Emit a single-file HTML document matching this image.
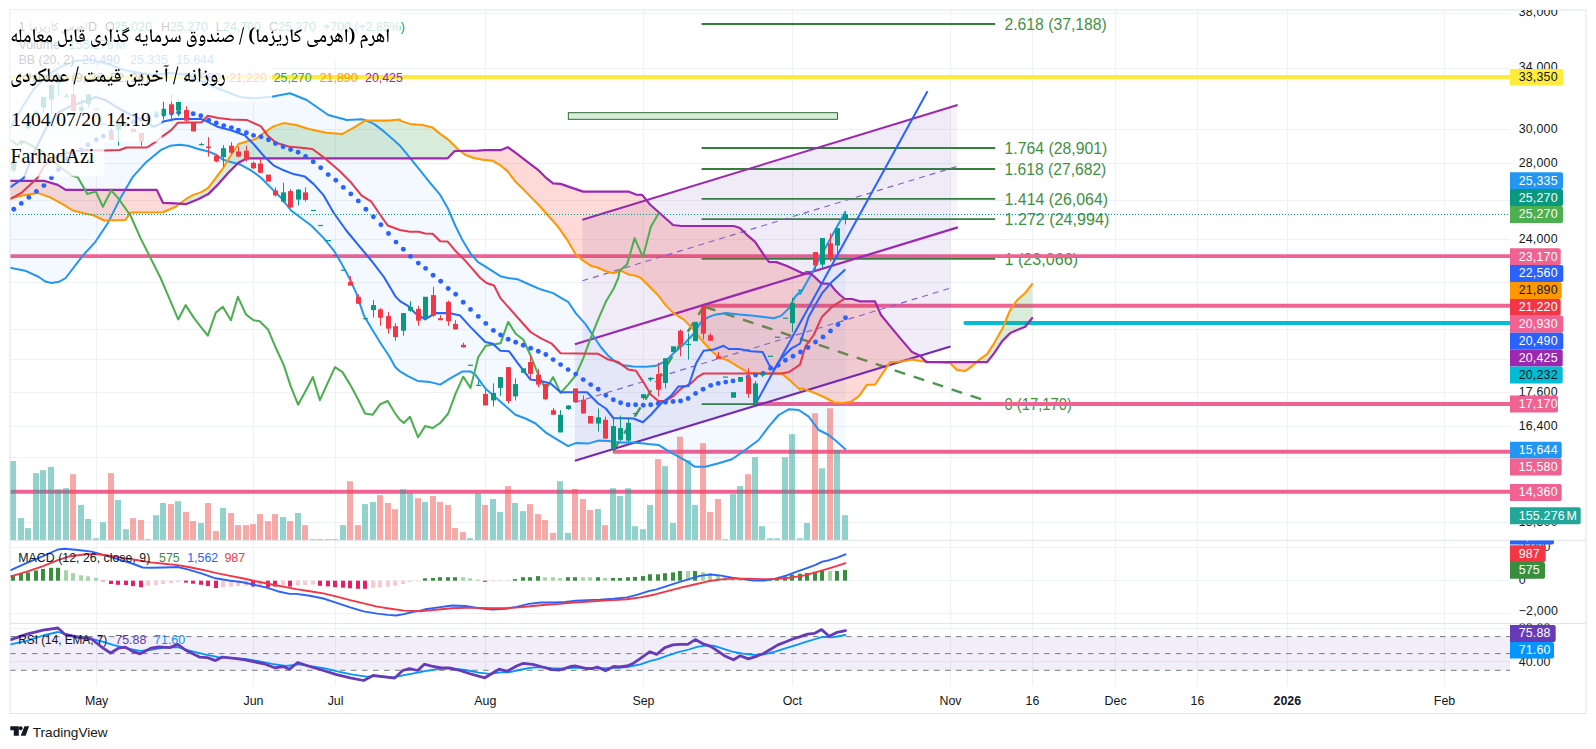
<!DOCTYPE html>
<html><head><meta charset="utf-8"><title>chart</title><style>html,body{margin:0;padding:0;background:#fff;width:1596px;height:749px;overflow:hidden}</style></head><body>
<svg width="1596" height="749" viewBox="0 0 1596 749" style="position:absolute;left:0;top:0">
<defs>
<clipPath id="cm"><rect x="10" y="10" width="1500" height="530.4"/></clipPath>
<clipPath id="cmacd"><rect x="10" y="540.4" width="1500" height="83.0"/></clipPath>
<clipPath id="crsi"><rect x="10" y="623.4" width="1500" height="62.10000000000002"/></clipPath>
<clipPath id="cax1"><rect x="1510" y="10" width="76" height="530.4"/></clipPath>
<clipPath id="cax2"><rect x="1510" y="540.4" width="76" height="83.0"/></clipPath>
<clipPath id="cax3"><rect x="1510" y="623.4" width="76" height="62.10000000000002"/></clipPath>
</defs>
<rect x="0" y="0" width="1596" height="749" fill="#ffffff"/>
<path d="M96.7,10V685.5M253.6,10V685.5M335.7,10V685.5M485.4,10V685.5M643.5,10V685.5M792.4,10V685.5M950.6,10V685.5M1032.6,10V685.5M1115.7,10V685.5M1197.5,10V685.5M1287.4,10V685.5M1444.6,10V685.5M10,13.4H1510M10,68.5H1510M10,129.1H1510M10,163.2H1510M10,200.0H1510M10,239.3H1510M10,282.4H1510M10,329.3H1510M10,359.5H1510M10,392.1H1510M10,426.6H1510M10,457.7H1510M10,490.9H1510M10,522.3H1510M10,547.4H1510M10,580.5H1510M10,613.2H1510M10,628.2H1510M10,661.9H1510" stroke="#f0f1f4" stroke-width="1" fill="none" shape-rendering="crispEdges"/>
<g clip-path="url(#cm)">
<line x1="701.6" y1="24.0" x2="995.2" y2="24.0" stroke="#2f8236" stroke-width="1.8"/>
<text x="1004.5" y="29.8" font-family='"Liberation Sans", sans-serif' font-size="16.4" fill="#3f9142" textLength="102.2" lengthAdjust="spacingAndGlyphs">2.618 (37,188)</text>
<line x1="701.6" y1="148.0" x2="995.2" y2="148.0" stroke="#2f8236" stroke-width="1.8"/>
<text x="1004.5" y="153.8" font-family='"Liberation Sans", sans-serif' font-size="16.4" fill="#3f9142" textLength="102.8" lengthAdjust="spacingAndGlyphs">1.764 (28,901)</text>
<line x1="701.6" y1="169.0" x2="995.2" y2="169.0" stroke="#2f8236" stroke-width="1.8"/>
<text x="1004.5" y="174.8" font-family='"Liberation Sans", sans-serif' font-size="16.4" fill="#3f9142" textLength="101.8" lengthAdjust="spacingAndGlyphs">1.618 (27,682)</text>
<line x1="701.6" y1="198.9" x2="995.2" y2="198.9" stroke="#2f8236" stroke-width="1.8"/>
<text x="1004.5" y="204.7" font-family='"Liberation Sans", sans-serif' font-size="16.4" fill="#3f9142" textLength="103.6" lengthAdjust="spacingAndGlyphs">1.414 (26,064)</text>
<line x1="701.6" y1="219.1" x2="995.2" y2="219.1" stroke="#2f8236" stroke-width="1.8"/>
<text x="1004.5" y="224.9" font-family='"Liberation Sans", sans-serif' font-size="16.4" fill="#3f9142" textLength="104.8" lengthAdjust="spacingAndGlyphs">1.272 (24,994)</text>
<line x1="701.6" y1="258.8" x2="995.2" y2="258.8" stroke="#2f8236" stroke-width="1.8"/>
<text x="1004.5" y="264.6" font-family='"Liberation Sans", sans-serif' font-size="16.4" fill="#3f9142" textLength="73.5" lengthAdjust="spacingAndGlyphs">1 (23,066)</text>
<line x1="701.6" y1="404.2" x2="995.2" y2="404.2" stroke="#2f8236" stroke-width="1.8"/>
<text x="1004.5" y="410.0" font-family='"Liberation Sans", sans-serif' font-size="16.4" fill="#3f9142" textLength="67.5" lengthAdjust="spacingAndGlyphs">0 (17,170)</text>
<line x1="10" y1="76.9" x2="1510" y2="76.9" stroke="#ffeb3b" stroke-width="4"/>
<line x1="10" y1="256.1" x2="1510" y2="256.1" stroke="#f06292" stroke-width="3.9"/>
<line x1="703.1" y1="305.8" x2="1510" y2="305.8" stroke="#f06292" stroke-width="3.9"/>
<line x1="755.6" y1="404.0" x2="1510" y2="404.0" stroke="#f06292" stroke-width="3.9"/>
<line x1="612.8" y1="451.8" x2="1510" y2="451.8" stroke="#f06292" stroke-width="3.9"/>
<line x1="10" y1="491.8" x2="1510" y2="491.8" stroke="#f06292" stroke-width="3.9"/>
<line x1="965.3" y1="323" x2="1510" y2="323" stroke="#00bcd4" stroke-width="3.8" stroke-linecap="round"/>
<rect x="568.3" y="112.7" width="269.2" height="6.6" fill="#d6edd8" stroke="#1b5e20" stroke-width="0.9"/>
<polygon points="582.4,219.7 957.2,105.1 957.2,227.6 582.4,341.9" fill="rgba(126,87,194,0.075)"/>
<polygon points="582.4,219.7 950.6,107.1 950.6,229.6 582.4,341.9" fill="rgba(126,87,194,0.045)"/>
<polygon points="574.9,344.2 950.6,229.6 950.6,346.5 574.9,460.7" fill="rgba(126,87,194,0.115)"/>
<polyline points="613.5,450.5 703.6,306.5" fill="none" stroke="#388e3c" stroke-width="2.4" stroke-dasharray="11,9" opacity="0.9"/>
<line x1="705" y1="307" x2="983.1" y2="399.8" stroke="#388e3c" stroke-width="2.4" stroke-dasharray="11,9" opacity="0.9"/>
<polygon points="10.3,127.8 22.2,107.3 34.2,88.5 47.9,74.8 61.5,66.3 75.2,61.1 88.9,59.4 109.4,64.5 123.1,69.7 140.2,73.1 153.8,74.8 170.9,73.1 188.0,74.8 213.7,86.8 240.0,97.0 253.3,98.3 271.7,96.7 290.0,93.3 306.7,100.0 328.3,115.0 346.7,120.0 361.7,119.3 365.1,120.1 373.9,123.9 383.9,131.4 394.0,140.2 400.0,145.7 410.0,157.8 420.1,170.3 430.1,182.8 440.2,194.9 447.7,207.9 455.2,225.5 462.7,240.6 470.3,253.1 477.8,261.9 487.8,268.2 500.4,276.2 507.9,278.0 517.9,279.3 530.5,285.0 540.5,289.3 553.1,293.1 560.6,297.6 568.1,301.8 575.7,313.1 585.7,324.4 593.2,335.7 600.8,347.0 608.3,355.8 615.8,362.1 623.3,365.3 633.4,366.6 645.9,366.8 656.0,365.8 666.0,360.8 673.5,353.3 683.6,344.5 693.6,333.7 701.1,321.9 708.7,316.9 716.2,314.4 726.2,313.1 738.8,314.4 751.3,315.6 763.9,316.9 773.9,318.2 781.4,315.6 789.0,308.1 795.2,296.8 800.0,291.8 800.1,294.0 811.4,274.0 822.7,252.7 834.0,232.0 845.3,211.9 845.3,449.3 837.0,441.7 828.7,435.0 818.7,430.0 808.7,416.7 798.7,410.0 788.7,409.3 778.7,415.0 768.7,426.7 758.7,440.0 745.3,450.0 732.0,459.3 718.7,463.3 705.3,466.7 695.3,466.7 693.6,466.0 688.6,462.4 678.5,456.7 668.5,451.1 658.5,444.9 648.4,444.1 633.4,442.4 618.3,442.4 608.3,441.1 598.2,440.6 588.2,443.6 575.7,443.1 568.1,446.1 555.6,438.6 545.5,432.3 535.5,423.5 525.5,418.5 515.4,414.8 505.4,406.0 495.4,397.2 485.3,388.4 475.3,374.6 470.3,371.4 462.7,371.4 450.2,378.4 440.2,384.6 430.1,382.1 417.6,380.9 407.5,375.9 400.0,371.4 395.2,367.1 389.0,355.8 381.4,344.5 371.4,328.2 363.9,315.6 356.3,293.1 348.8,277.0 341.3,263.1 333.8,250.6 323.7,238.1 311.2,225.5 301.1,218.0 291.1,210.5 281.1,197.9 271.0,187.9 261.0,177.8 250.9,170.3 240.9,164.8 233.4,162.8 223.3,159.8 215.8,154.7 208.3,151.5 198.2,149.0 188.2,145.7 179.4,144.7 170.6,145.7 160.6,150.2 145.5,162.8 133.0,176.6 120.5,197.9 107.9,223.0 95.4,241.8 82.8,255.6 65.7,278.0 59.0,281.8 51.4,283.0 45.2,281.5 38.9,277.0 25.1,270.7 10.0,267.7" fill="rgba(33,150,243,0.055)"/>
<rect x="10.0" y="461.0" width="6" height="79.2" fill="rgba(38,166,154,0.5)"/>
<rect x="18.0" y="518.1" width="6" height="22.1" fill="rgba(38,166,154,0.5)"/>
<rect x="25.0" y="528.1" width="6" height="12.1" fill="rgba(38,166,154,0.5)"/>
<rect x="33.0" y="473.1" width="6" height="67.1" fill="rgba(38,166,154,0.5)"/>
<rect x="40.0" y="470.2" width="6" height="70.0" fill="rgba(38,166,154,0.5)"/>
<rect x="48.0" y="466.9" width="6" height="73.3" fill="rgba(38,166,154,0.5)"/>
<rect x="55.0" y="489.3" width="6" height="50.9" fill="rgba(38,166,154,0.5)"/>
<rect x="63.0" y="488.2" width="6" height="52.0" fill="rgba(38,166,154,0.5)"/>
<rect x="70.0" y="474.2" width="6" height="66.0" fill="rgba(239,83,80,0.5)"/>
<rect x="78.0" y="504.9" width="6" height="35.3" fill="rgba(38,166,154,0.5)"/>
<rect x="85.0" y="518.9" width="6" height="21.3" fill="rgba(38,166,154,0.5)"/>
<rect x="93.0" y="538.3" width="6" height="1.9" fill="rgba(38,166,154,0.5)"/>
<rect x="100.0" y="522.2" width="6" height="18.0" fill="rgba(38,166,154,0.5)"/>
<rect x="108.0" y="473.1" width="6" height="67.1" fill="rgba(239,83,80,0.5)"/>
<rect x="115.0" y="500.1" width="6" height="40.1" fill="rgba(38,166,154,0.5)"/>
<rect x="123.0" y="529.2" width="6" height="11.0" fill="rgba(38,166,154,0.5)"/>
<rect x="130.0" y="518.1" width="6" height="22.1" fill="rgba(239,83,80,0.5)"/>
<rect x="138.0" y="520.0" width="6" height="20.2" fill="rgba(239,83,80,0.5)"/>
<rect x="145.0" y="539.1" width="6" height="1.1" fill="rgba(38,166,154,0.5)"/>
<rect x="153.0" y="515.2" width="6" height="25.0" fill="rgba(38,166,154,0.5)"/>
<rect x="160.0" y="503.0" width="6" height="37.2" fill="rgba(38,166,154,0.5)"/>
<rect x="168.0" y="504.1" width="6" height="36.1" fill="rgba(239,83,80,0.5)"/>
<rect x="175.0" y="501.2" width="6" height="39.0" fill="rgba(38,166,154,0.5)"/>
<rect x="183.0" y="511.9" width="6" height="28.3" fill="rgba(239,83,80,0.5)"/>
<rect x="190.0" y="521.1" width="6" height="19.1" fill="rgba(239,83,80,0.5)"/>
<rect x="198.0" y="523.0" width="6" height="17.2" fill="rgba(38,166,154,0.5)"/>
<rect x="205.0" y="503.0" width="6" height="37.2" fill="rgba(239,83,80,0.5)"/>
<rect x="213.0" y="531.1" width="6" height="9.1" fill="rgba(239,83,80,0.5)"/>
<rect x="220.0" y="507.9" width="6" height="32.3" fill="rgba(38,166,154,0.5)"/>
<rect x="228.0" y="513.0" width="6" height="27.2" fill="rgba(239,83,80,0.5)"/>
<rect x="235.0" y="525.1" width="6" height="15.1" fill="rgba(239,83,80,0.5)"/>
<rect x="243.0" y="525.1" width="6" height="15.1" fill="rgba(239,83,80,0.5)"/>
<rect x="250.0" y="524.1" width="6" height="16.1" fill="rgba(239,83,80,0.5)"/>
<rect x="257.0" y="514.1" width="6" height="26.1" fill="rgba(239,83,80,0.5)"/>
<rect x="265.0" y="521.1" width="6" height="19.1" fill="rgba(239,83,80,0.5)"/>
<rect x="272.0" y="514.1" width="6" height="26.1" fill="rgba(239,83,80,0.5)"/>
<rect x="280.0" y="517.0" width="6" height="23.2" fill="rgba(38,166,154,0.5)"/>
<rect x="287.0" y="521.1" width="6" height="19.1" fill="rgba(239,83,80,0.5)"/>
<rect x="295.0" y="513.0" width="6" height="27.2" fill="rgba(38,166,154,0.5)"/>
<rect x="302.0" y="525.1" width="6" height="15.1" fill="rgba(239,83,80,0.5)"/>
<rect x="310.0" y="539.1" width="6" height="1.1" fill="rgba(38,166,154,0.5)"/>
<rect x="317.0" y="539.1" width="6" height="1.1" fill="rgba(38,166,154,0.5)"/>
<rect x="325.0" y="539.1" width="6" height="1.1" fill="rgba(38,166,154,0.5)"/>
<rect x="332.0" y="539.1" width="6" height="1.1" fill="rgba(38,166,154,0.5)"/>
<rect x="340.0" y="525.1" width="6" height="15.1" fill="rgba(38,166,154,0.5)"/>
<rect x="347.0" y="481.2" width="6" height="59.0" fill="rgba(239,83,80,0.5)"/>
<rect x="355.0" y="525.1" width="6" height="15.1" fill="rgba(239,83,80,0.5)"/>
<rect x="362.0" y="504.1" width="6" height="36.1" fill="rgba(38,166,154,0.5)"/>
<rect x="370.0" y="502.0" width="6" height="38.2" fill="rgba(38,166,154,0.5)"/>
<rect x="377.0" y="495.2" width="6" height="45.0" fill="rgba(239,83,80,0.5)"/>
<rect x="385.0" y="503.0" width="6" height="37.2" fill="rgba(239,83,80,0.5)"/>
<rect x="392.0" y="509.2" width="6" height="31.0" fill="rgba(239,83,80,0.5)"/>
<rect x="400.0" y="489.3" width="6" height="50.9" fill="rgba(38,166,154,0.5)"/>
<rect x="407.0" y="493.1" width="6" height="47.1" fill="rgba(38,166,154,0.5)"/>
<rect x="415.0" y="498.2" width="6" height="42.0" fill="rgba(239,83,80,0.5)"/>
<rect x="422.0" y="502.0" width="6" height="38.2" fill="rgba(38,166,154,0.5)"/>
<rect x="430.0" y="496.0" width="6" height="44.2" fill="rgba(239,83,80,0.5)"/>
<rect x="437.0" y="502.0" width="6" height="38.2" fill="rgba(239,83,80,0.5)"/>
<rect x="445.0" y="504.9" width="6" height="35.3" fill="rgba(239,83,80,0.5)"/>
<rect x="452.0" y="528.1" width="6" height="12.1" fill="rgba(239,83,80,0.5)"/>
<rect x="460.0" y="532.1" width="6" height="8.1" fill="rgba(239,83,80,0.5)"/>
<rect x="467.0" y="538.1" width="6" height="2.1" fill="rgba(38,166,154,0.5)"/>
<rect x="475.0" y="493.1" width="6" height="47.1" fill="rgba(38,166,154,0.5)"/>
<rect x="482.0" y="504.9" width="6" height="35.3" fill="rgba(239,83,80,0.5)"/>
<rect x="490.0" y="499.0" width="6" height="41.2" fill="rgba(38,166,154,0.5)"/>
<rect x="497.0" y="511.9" width="6" height="28.3" fill="rgba(38,166,154,0.5)"/>
<rect x="505.0" y="486.1" width="6" height="54.1" fill="rgba(239,83,80,0.5)"/>
<rect x="512.0" y="503.0" width="6" height="37.2" fill="rgba(38,166,154,0.5)"/>
<rect x="520.0" y="511.1" width="6" height="29.1" fill="rgba(38,166,154,0.5)"/>
<rect x="527.0" y="504.1" width="6" height="36.1" fill="rgba(239,83,80,0.5)"/>
<rect x="535.0" y="514.1" width="6" height="26.1" fill="rgba(239,83,80,0.5)"/>
<rect x="542.0" y="520.0" width="6" height="20.2" fill="rgba(239,83,80,0.5)"/>
<rect x="550.0" y="532.9" width="6" height="7.3" fill="rgba(239,83,80,0.5)"/>
<rect x="557.0" y="481.2" width="6" height="59.0" fill="rgba(38,166,154,0.5)"/>
<rect x="565.0" y="532.9" width="6" height="7.3" fill="rgba(38,166,154,0.5)"/>
<rect x="572.0" y="489.0" width="6" height="51.2" fill="rgba(239,83,80,0.5)"/>
<rect x="580.0" y="499.0" width="6" height="41.2" fill="rgba(239,83,80,0.5)"/>
<rect x="587.0" y="510.0" width="6" height="30.2" fill="rgba(239,83,80,0.5)"/>
<rect x="595.0" y="509.0" width="6" height="31.2" fill="rgba(38,166,154,0.5)"/>
<rect x="602.0" y="525.1" width="6" height="15.1" fill="rgba(239,83,80,0.5)"/>
<rect x="610.0" y="488.2" width="6" height="52.0" fill="rgba(38,166,154,0.5)"/>
<rect x="617.0" y="496.0" width="6" height="44.2" fill="rgba(38,166,154,0.5)"/>
<rect x="625.0" y="488.2" width="6" height="52.0" fill="rgba(38,166,154,0.5)"/>
<rect x="632.0" y="526.2" width="6" height="14.0" fill="rgba(38,166,154,0.5)"/>
<rect x="640.0" y="529.2" width="6" height="11.0" fill="rgba(38,166,154,0.5)"/>
<rect x="647.0" y="504.9" width="6" height="35.3" fill="rgba(38,166,154,0.5)"/>
<rect x="655.0" y="459.1" width="6" height="81.1" fill="rgba(239,83,80,0.5)"/>
<rect x="662.0" y="466.1" width="6" height="74.1" fill="rgba(38,166,154,0.5)"/>
<rect x="670.0" y="523.0" width="6" height="17.2" fill="rgba(38,166,154,0.5)"/>
<rect x="685.0" y="460.2" width="6" height="80.0" fill="rgba(38,166,154,0.5)"/>
<rect x="692.0" y="504.9" width="6" height="35.3" fill="rgba(38,166,154,0.5)"/>
<rect x="700.0" y="443.2" width="6" height="97.0" fill="rgba(239,83,80,0.5)"/>
<rect x="707.0" y="511.9" width="6" height="28.3" fill="rgba(239,83,80,0.5)"/>
<rect x="715.0" y="499.0" width="6" height="41.2" fill="rgba(239,83,80,0.5)"/>
<rect x="722.0" y="539.1" width="6" height="1.1" fill="rgba(38,166,154,0.5)"/>
<rect x="730.0" y="494.1" width="6" height="46.1" fill="rgba(38,166,154,0.5)"/>
<rect x="737.0" y="486.1" width="6" height="54.1" fill="rgba(38,166,154,0.5)"/>
<rect x="745.0" y="474.2" width="6" height="66.0" fill="rgba(239,83,80,0.5)"/>
<rect x="752.0" y="457.2" width="6" height="83.0" fill="rgba(38,166,154,0.5)"/>
<rect x="759.0" y="526.2" width="6" height="14.0" fill="rgba(38,166,154,0.5)"/>
<rect x="767.0" y="538.3" width="6" height="1.9" fill="rgba(38,166,154,0.5)"/>
<rect x="774.0" y="538.3" width="6" height="1.9" fill="rgba(38,166,154,0.5)"/>
<rect x="782.0" y="457.2" width="6" height="83.0" fill="rgba(38,166,154,0.5)"/>
<rect x="797.0" y="538.3" width="6" height="1.9" fill="rgba(38,166,154,0.5)"/>
<rect x="804.0" y="523.0" width="6" height="17.2" fill="rgba(38,166,154,0.5)"/>
<rect x="819.0" y="468.3" width="6" height="71.9" fill="rgba(38,166,154,0.5)"/>
<rect x="834.0" y="450.2" width="6" height="90.0" fill="rgba(38,166,154,0.5)"/>
<rect x="842.0" y="515.2" width="6" height="25.0" fill="rgba(38,166,154,0.5)"/>
<rect x="677.0" y="436.6" width="6" height="103.6" fill="rgba(239,83,80,0.5)"/>
<rect x="789.0" y="434.1" width="6" height="106.1" fill="rgba(38,166,154,0.5)"/>
<rect x="812.0" y="413.3" width="6" height="126.9" fill="rgba(239,83,80,0.5)"/>
<rect x="827.0" y="408.3" width="6" height="131.9" fill="rgba(239,83,80,0.5)"/>
<polygon points="10.0,198.0 12.1,197.9 14.2,197.4 16.3,196.9 18.4,196.4 20.5,195.9 22.6,195.4 24.7,195.0 26.9,194.7 29.0,194.3 31.2,194.0 33.3,193.6 35.5,193.2 37.6,192.9 39.7,193.6 41.8,194.4 43.9,195.1 46.0,195.9 48.1,196.7 50.2,197.4 52.7,198.8 55.2,200.1 57.7,201.5 60.2,202.8 62.7,204.2 65.7,206.0 68.1,207.5 70.4,209.0 72.8,210.5 74.8,211.0 76.8,211.5 78.8,212.0 80.8,212.5 82.8,213.0 85.1,213.5 87.3,214.0 89.6,214.5 91.8,215.0 94.1,215.5 96.1,216.5 98.1,217.5 100.1,218.5 102.1,219.5 104.1,220.5 106.2,220.4 108.4,220.4 110.5,220.3 112.7,220.3 114.8,220.2 116.9,220.2 119.1,220.1 121.2,220.1 123.4,220.0 125.5,219.9 128.0,216.2 130.5,212.5 132.5,212.4 134.5,212.4 136.6,212.4 138.6,212.4 140.6,212.4 142.6,212.4 144.7,212.4 146.7,212.3 148.7,212.3 150.7,212.3 152.8,212.3 154.8,212.3 156.8,212.3 158.9,212.2 161.0,212.2 163.1,212.2 165.2,211.3 167.3,210.4 169.4,209.4 171.5,208.5 173.6,207.6 175.7,206.7 177.7,205.2 179.7,203.7 179.7,203.7 177.7,203.6 175.7,203.4 173.6,203.3 171.5,203.3 169.4,203.2 167.3,203.1 165.2,203.0 163.1,202.9 161.0,198.5 158.9,194.2 156.8,189.9 154.8,189.9 152.8,189.9 150.7,189.9 148.7,189.9 146.7,189.9 144.7,189.9 142.6,189.9 140.6,189.9 138.6,189.9 136.6,189.9 134.5,189.9 132.5,189.9 130.5,189.9 128.0,189.9 125.5,189.9 123.4,189.9 121.2,189.9 119.1,189.9 116.9,189.9 114.8,189.9 112.7,189.9 110.5,189.9 108.4,189.9 106.2,189.9 104.1,189.9 102.1,189.9 100.1,189.9 98.1,189.9 96.1,189.9 94.1,189.9 91.8,189.9 89.6,189.9 87.3,189.9 85.1,189.9 82.8,189.9 80.8,189.9 78.8,189.9 76.8,189.9 74.8,189.9 72.8,189.9 70.4,189.9 68.1,189.9 65.7,189.8 62.7,188.0 60.2,186.4 57.7,184.9 55.2,184.1 52.7,183.4 50.2,182.7 48.1,182.1 46.0,181.4 43.9,180.8 41.8,180.8 39.7,180.8 37.6,180.8 35.5,180.8 33.3,180.8 31.2,180.8 29.0,180.8 26.9,180.8 24.7,180.8 22.6,180.8 20.5,180.8 18.4,180.8 16.3,180.8 14.2,180.8 12.1,180.8 10.0,180.8" fill="rgba(244,67,54,0.2)"/><polygon points="179.7,203.7 181.7,202.2 183.7,200.7 185.7,199.2 188.2,197.7 190.7,196.3 193.2,194.9 195.7,194.1 198.2,193.2 200.8,192.4 203.3,190.9 205.8,189.4 208.3,187.8 210.8,184.5 213.3,181.2 215.8,177.8 218.3,174.5 220.8,171.2 223.3,167.8 225.9,163.6 228.4,159.4 230.9,155.2 233.4,151.4 235.9,147.7 238.4,144.0 240.6,143.3 242.8,142.6 245.0,142.0 247.2,141.3 248.4,141.0 250.9,140.3 253.5,139.6 256.0,138.9 258.0,137.4 260.0,135.9 262.0,134.4 264.0,132.9 266.0,131.4 268.5,129.7 271.0,128.1 273.5,126.4 275.5,125.7 277.5,125.1 279.6,124.4 281.6,123.8 283.6,123.1 285.7,123.5 287.8,123.8 289.9,124.1 291.9,124.5 294.0,124.8 296.1,125.1 298.2,125.8 300.3,126.4 302.4,127.0 304.5,127.6 306.6,128.3 308.7,128.9 310.9,129.4 313.1,129.8 315.3,130.3 317.4,130.8 319.6,131.2 321.8,131.7 324.0,132.2 326.2,132.7 328.2,132.8 330.3,133.0 332.3,133.1 334.4,133.3 336.4,133.4 338.4,133.6 340.5,133.8 342.5,133.9 344.8,132.7 347.0,131.4 349.3,130.2 351.5,128.9 353.8,127.7 356.1,126.3 358.3,124.8 360.6,123.4 362.8,122.0 365.1,120.6 367.3,120.6 369.4,120.6 371.6,120.6 373.8,120.6 376.0,120.6 378.1,120.6 380.3,120.6 382.5,120.6 384.7,120.6 386.8,120.6 389.0,120.6 391.2,120.4 393.4,120.2 395.6,120.0 397.8,119.8 400.0,119.6 402.0,121.3 404.0,121.9 406.0,122.6 408.0,123.2 410.0,123.9 412.1,124.1 414.2,124.3 416.3,124.5 418.4,124.7 420.5,124.9 422.6,125.1 424.6,125.6 426.6,126.1 428.6,126.6 430.6,127.1 432.6,127.6 435.1,129.7 437.7,131.8 440.2,133.9 442.7,135.7 445.2,137.5 447.7,139.3 448.9,140.2 451.8,143.1 454.7,146.0 457.7,149.0 460.2,150.9 462.7,152.8 462.7,150.9 460.2,150.9 457.7,150.9 454.7,151.0 451.8,154.0 448.9,157.0 447.7,158.2 445.2,158.3 442.7,158.3 440.2,158.3 437.7,158.3 435.1,158.3 432.6,158.3 430.6,158.3 428.6,158.3 426.6,158.3 424.6,158.3 422.6,158.3 420.5,158.3 418.4,158.3 416.3,158.3 414.2,158.3 412.1,158.3 410.0,158.3 408.0,158.3 406.0,158.3 404.0,158.3 402.0,158.3 400.0,158.3 397.8,158.3 395.6,158.3 393.4,158.3 391.2,158.3 389.0,158.3 386.8,158.3 384.7,158.3 382.5,158.3 380.3,158.3 378.1,158.3 376.0,158.3 373.8,158.3 371.6,158.3 369.4,158.3 367.3,158.3 365.1,158.3 362.8,158.3 360.6,158.3 358.3,158.3 356.1,158.3 353.8,158.3 351.5,158.3 349.3,158.3 347.0,158.3 344.8,158.3 342.5,158.3 340.5,158.3 338.4,158.3 336.4,158.3 334.4,158.3 332.3,158.3 330.3,158.3 328.2,158.3 326.2,158.3 324.0,158.3 321.8,158.3 319.6,158.3 317.4,158.3 315.3,158.3 313.1,158.3 310.9,158.3 308.7,158.3 306.6,158.3 304.5,158.3 302.4,158.3 300.3,158.3 298.2,158.3 296.1,158.3 294.0,158.3 291.9,158.3 289.9,158.3 287.8,158.3 285.7,158.3 283.6,158.3 281.6,158.3 279.6,158.3 277.5,158.3 275.5,158.3 273.5,158.3 271.0,158.3 268.5,158.3 266.0,158.3 264.0,158.3 262.0,158.3 260.0,158.3 258.0,158.3 256.0,158.3 253.5,158.3 250.9,158.3 248.4,158.3 247.2,158.3 245.0,159.4 242.8,160.5 240.6,161.6 238.4,162.8 235.9,165.3 233.4,167.8 230.9,170.3 228.4,172.8 225.9,175.6 223.3,178.5 220.8,181.3 218.3,184.1 215.8,186.6 213.3,189.1 210.8,191.6 208.3,194.1 205.8,195.4 203.3,196.6 200.8,197.9 198.2,199.2 195.7,200.2 193.2,201.2 190.7,202.2 188.2,203.2 185.7,204.2 183.7,204.0 181.7,203.9 179.7,203.7" fill="rgba(67,160,71,0.2)"/><polygon points="462.7,152.8 465.2,154.7 467.7,155.7 470.3,156.8 472.8,157.8 475.3,158.3 477.8,158.8 480.3,159.3 482.8,159.8 485.3,160.0 487.8,160.3 490.3,160.5 492.8,160.8 495.3,162.3 497.9,163.8 500.4,165.3 502.9,167.4 505.4,169.5 507.9,171.6 510.4,174.9 512.9,178.2 515.4,181.5 517.9,184.1 520.5,186.6 523.0,189.2 525.5,191.7 528.0,194.2 530.5,196.7 533.0,199.2 535.5,201.7 538.0,204.2 540.5,207.0 543.0,209.8 545.5,212.6 548.1,215.5 550.6,218.3 553.1,221.1 555.6,224.0 558.1,226.8 560.6,230.3 562.7,233.3 564.8,236.3 566.9,239.4 570.6,245.7 573.2,250.1 575.7,254.4 578.2,256.5 580.7,258.6 583.2,260.6 585.7,262.3 588.2,264.0 590.7,265.6 593.2,266.3 595.7,267.0 598.2,267.7 600.7,268.8 603.3,270.0 605.8,271.2 608.3,271.9 610.8,272.5 613.3,273.2 615.8,272.4 618.3,271.5 620.8,270.7 623.3,271.9 625.9,273.2 628.4,274.4 630.9,274.9 633.4,275.3 635.9,275.7 638.4,276.8 640.9,278.0 642.2,279.3 644.3,281.3 646.3,283.4 648.4,285.5 649.7,286.8 651.9,289.0 654.1,291.2 656.3,293.4 658.5,295.6 661.0,298.9 663.5,302.3 666.0,305.6 668.3,307.9 670.7,310.3 673.0,312.6 673.5,313.1 676.0,314.7 678.6,316.3 681.1,317.9 683.6,319.4 685.8,321.6 688.0,323.8 690.1,326.0 692.3,328.1 694.5,331.0 696.7,333.8 698.9,336.6 701.1,339.4 703.1,341.7 705.1,344.0 707.2,346.3 709.2,348.5 711.2,350.8 713.7,352.9 716.2,355.0 718.7,357.0 720.7,357.8 722.7,358.5 724.7,359.3 726.7,360.0 728.7,360.8 731.2,362.4 733.8,364.0 736.3,365.5 738.8,367.1 740.0,367.8 742.1,369.0 744.2,370.2 746.3,371.4 748.8,372.9 750.9,372.9 753.0,373.0 755.1,373.1 757.2,373.2 759.3,373.3 761.4,373.4 762.6,373.4 764.7,373.4 766.8,373.4 768.9,373.4 771.4,373.4 773.9,373.4 776.4,373.4 778.9,373.4 781.4,373.4 783.9,375.4 786.4,377.5 789.0,379.7 791.2,381.7 793.4,383.7 795.6,385.7 797.8,387.7 800.0,389.7 801.4,388.3 801.6,388.1 804.0,389.0 806.5,389.9 809.0,390.8 811.4,391.7 814.2,392.8 816.6,393.8 819.0,394.9 821.4,395.9 825.0,397.5 827.6,398.9 830.2,400.4 834.1,402.5 835.2,402.6 839.0,402.7 840.0,402.8 843.1,402.9 845.0,402.6 847.0,402.3 849.0,402.0 851.0,401.7 852.0,401.0 854.3,399.4 856.7,397.8 859.0,396.1 860.0,394.7 862.3,391.4 864.7,388.1 867.0,384.8 869.0,384.7 871.0,384.7 873.0,384.7 875.0,384.7 877.0,381.8 879.0,378.7 881.0,375.7 883.3,372.3 885.5,368.9 887.8,365.4 890.1,362.1 892.1,362.0 894.1,361.9 896.1,361.8 898.1,361.7 900.1,361.5 902.6,361.3 905.1,361.1 907.4,360.5 909.8,360.0 912.1,359.5 914.1,359.9 916.1,360.3 918.1,360.7 920.1,361.1 922.2,361.3 924.4,361.4 926.5,361.6 926.5,362.1 924.4,360.0 922.2,357.8 920.1,355.7 918.1,354.8 916.1,353.9 914.1,353.0 912.1,352.1 909.8,349.4 907.4,346.7 905.1,343.9 902.6,341.0 900.1,338.1 898.1,335.7 896.1,333.3 894.1,330.9 892.1,328.5 890.1,326.1 887.8,323.3 885.5,320.6 883.3,317.8 881.0,315.0 879.0,310.4 877.0,305.9 875.0,301.4 873.0,301.4 871.0,301.4 869.0,301.4 867.0,301.4 864.7,301.4 862.3,301.4 860.0,301.4 859.0,301.1 856.7,300.4 854.3,299.7 852.0,299.0 851.0,299.0 849.0,299.0 847.0,299.0 845.0,299.0 843.1,297.5 840.0,295.0 839.0,294.0 835.2,290.3 834.1,288.9 830.2,283.8 827.6,283.7 825.0,283.6 821.4,283.4 819.0,281.1 816.6,278.9 814.2,276.6 811.4,274.0 809.0,273.7 806.5,273.4 804.0,273.1 801.6,272.8 801.4,272.8 800.0,271.9 797.8,270.9 795.6,269.9 793.4,268.9 791.2,267.9 789.0,266.8 786.4,265.6 783.9,264.8 781.4,263.9 778.9,263.0 776.4,262.1 773.9,262.1 771.4,262.0 768.9,261.9 766.8,259.0 764.7,256.0 762.6,253.1 761.4,251.3 759.3,248.1 757.2,245.0 755.1,241.8 753.0,240.0 750.9,238.2 748.8,236.4 746.3,234.3 744.2,232.2 742.1,230.1 740.0,228.0 738.8,227.6 736.3,226.8 733.8,226.0 731.2,226.0 728.7,226.0 726.7,226.0 724.7,226.0 722.7,226.0 720.7,226.0 718.7,226.0 716.2,226.0 713.7,226.0 711.2,226.0 709.2,226.0 707.2,226.0 705.1,226.0 703.1,226.0 701.1,226.0 698.9,226.0 696.7,226.0 694.5,226.0 692.3,226.0 690.1,226.0 688.0,226.0 685.8,226.0 683.6,226.0 681.1,226.0 678.6,225.7 676.0,225.4 673.5,225.1 673.0,225.0 670.7,222.9 668.3,220.8 666.0,218.7 663.5,216.5 661.0,214.2 658.5,212.0 656.3,210.1 654.1,208.1 651.9,206.1 649.7,204.2 648.4,202.6 646.3,200.0 644.3,197.5 642.2,194.9 640.9,194.8 638.4,194.7 635.9,194.6 633.4,193.6 630.9,192.6 628.4,191.6 625.9,191.6 623.3,191.6 620.8,191.6 618.3,191.6 615.8,191.6 613.3,191.6 610.8,191.6 608.3,191.6 605.8,191.6 603.3,191.6 600.7,191.6 598.2,191.6 595.7,191.6 593.2,191.6 590.7,191.6 588.2,191.6 585.7,191.6 583.2,191.6 580.7,190.8 578.2,189.9 575.7,189.1 573.2,188.2 570.6,187.4 566.9,186.1 564.8,185.3 562.7,184.6 560.6,183.9 558.1,183.7 555.6,183.5 553.1,183.4 550.6,181.4 548.1,179.4 545.5,177.3 543.0,174.8 540.5,172.3 538.0,169.8 535.5,167.9 533.0,166.0 530.5,164.1 528.0,162.2 525.5,160.3 523.0,158.4 520.5,156.5 517.9,154.6 515.4,152.7 512.9,150.9 510.4,149.0 507.9,147.2 505.4,148.2 502.9,149.2 500.4,150.2 497.9,150.2 495.3,150.2 492.8,150.2 490.3,150.2 487.8,150.2 485.3,150.2 482.8,150.4 480.3,150.6 477.8,150.7 475.3,150.8 472.8,150.8 470.3,150.8 467.7,150.8 465.2,150.9 462.7,150.9" fill="rgba(244,67,54,0.2)"/><polygon points="926.5,361.6 928.1,361.7 930.1,361.8 932.1,361.9 934.1,362.0 936.1,362.1 936.1,362.1 934.1,362.1 932.1,362.1 930.1,362.1 928.1,362.1 926.5,362.1" fill="rgba(67,160,71,0.2)"/><polygon points="936.1,362.1 938.1,362.2 940.1,362.3 942.1,362.4 944.1,362.5 946.1,362.7 948.1,362.9 950.1,363.1 952.4,365.4 954.8,367.7 957.1,370.1 959.1,370.3 961.1,370.6 963.1,370.8 965.1,371.1 967.4,369.5 969.8,367.8 972.1,366.1 974.1,364.4 976.1,362.6 978.1,360.9 978.1,362.1 976.1,362.1 974.1,362.1 972.1,362.1 969.8,362.1 967.4,362.1 965.1,362.1 963.1,362.1 961.1,362.1 959.1,362.1 957.1,362.1 954.8,362.1 952.4,362.1 950.1,362.1 948.1,362.1 946.1,362.1 944.1,362.1 942.1,362.1 940.1,362.1 938.1,362.1 936.1,362.1" fill="rgba(244,67,54,0.2)"/><polygon points="978.1,360.9 980.1,359.1 982.4,357.5 984.8,355.8 987.1,354.1 989.5,350.4 991.8,346.7 994.2,343.0 996.2,339.5 998.2,336.0 1000.2,332.5 1002.2,329.0 1004.2,324.2 1006.2,319.5 1008.2,314.7 1010.2,310.0 1012.5,306.7 1014.9,303.3 1017.2,300.0 1019.2,298.3 1021.2,296.5 1023.2,294.8 1025.2,293.0 1027.5,290.0 1029.9,287.0 1032.2,284.0 1032.2,318.0 1029.9,320.9 1027.5,323.8 1025.2,326.6 1023.2,327.5 1021.2,328.4 1019.2,329.2 1017.2,330.1 1014.9,331.1 1012.5,332.1 1010.2,333.1 1008.2,335.0 1006.2,337.0 1004.2,339.0 1002.2,341.0 1000.2,344.0 998.2,347.0 996.2,350.0 994.2,353.0 991.8,356.1 989.5,359.1 987.1,362.1 984.8,362.1 982.4,362.1 980.1,362.1 978.1,362.1" fill="rgba(67,160,71,0.2)"/>
<line x1="582.4" y1="219.7" x2="957.6" y2="105.0" stroke="#9c27b0" stroke-width="2"/>
<line x1="574.9" y1="344.2" x2="957.8" y2="227.4" stroke="#9c27b0" stroke-width="2.2"/>
<line x1="574.9" y1="460.7" x2="950.5" y2="346.5" stroke="#7429b4" stroke-width="2.1"/>
<line x1="582.4" y1="280.8" x2="957.2" y2="166.4" stroke="#8560c9" stroke-width="1.15" stroke-dasharray="6,5"/>
<line x1="574.9" y1="402.4" x2="950.5" y2="288.1" stroke="#8560c9" stroke-width="1.15" stroke-dasharray="6,5"/>
<polyline points="10.3,127.8 22.2,107.3 34.2,88.5 47.9,74.8 61.5,66.3 75.2,61.1 88.9,59.4 109.4,64.5 123.1,69.7 140.2,73.1 153.8,74.8 170.9,73.1 188.0,74.8 213.7,86.8 240.0,97.0 253.3,98.3 271.7,96.7 290.0,93.3 306.7,100.0 328.3,115.0 346.7,120.0 361.7,119.3 365.1,120.1 373.9,123.9 383.9,131.4 394.0,140.2 400.0,145.7 410.0,157.8 420.1,170.3 430.1,182.8 440.2,194.9 447.7,207.9 455.2,225.5 462.7,240.6 470.3,253.1 477.8,261.9 487.8,268.2 500.4,276.2 507.9,278.0 517.9,279.3 530.5,285.0 540.5,289.3 553.1,293.1 560.6,297.6 568.1,301.8 575.7,313.1 585.7,324.4 593.2,335.7 600.8,347.0 608.3,355.8 615.8,362.1 623.3,365.3 633.4,366.6 645.9,366.8 656.0,365.8 666.0,360.8 673.5,353.3 683.6,344.5 693.6,333.7 701.1,321.9 708.7,316.9 716.2,314.4 726.2,313.1 738.8,314.4 751.3,315.6 763.9,316.9 773.9,318.2 781.4,315.6 789.0,308.1 795.2,296.8 800.0,291.8 800.1,294.0 811.4,274.0 822.7,252.7 834.0,232.0 845.3,211.9" fill="none" stroke="#2196f3" stroke-width="2.0" stroke-linejoin="round" stroke-linecap="round" />
<polyline points="10.0,267.7 25.1,270.7 38.9,277.0 45.2,281.5 51.4,283.0 59.0,281.8 65.7,278.0 82.8,255.6 95.4,241.8 107.9,223.0 120.5,197.9 133.0,176.6 145.5,162.8 160.6,150.2 170.6,145.7 179.4,144.7 188.2,145.7 198.2,149.0 208.3,151.5 215.8,154.7 223.3,159.8 233.4,162.8 240.9,164.8 250.9,170.3 261.0,177.8 271.0,187.9 281.1,197.9 291.1,210.5 301.1,218.0 311.2,225.5 323.7,238.1 333.8,250.6 341.3,263.1 348.8,277.0 356.3,293.1 363.9,315.6 371.4,328.2 381.4,344.5 389.0,355.8 395.2,367.1 400.0,371.4 407.5,375.9 417.6,380.9 430.1,382.1 440.2,384.6 450.2,378.4 462.7,371.4 470.3,371.4 475.3,374.6 485.3,388.4 495.4,397.2 505.4,406.0 515.4,414.8 525.5,418.5 535.5,423.5 545.5,432.3 555.6,438.6 568.1,446.1 575.7,443.1 588.2,443.6 598.2,440.6 608.3,441.1 618.3,442.4 633.4,442.4 648.4,444.1 658.5,444.9 668.5,451.1 678.5,456.7 688.6,462.4 693.6,466.0 695.3,466.7 705.3,466.7 718.7,463.3 732.0,459.3 745.3,450.0 758.7,440.0 768.7,426.7 778.7,415.0 788.7,409.3 798.7,410.0 808.7,416.7 818.7,430.0 828.7,435.0 837.0,441.7 845.3,449.3" fill="none" stroke="#2196f3" stroke-width="2.0" stroke-linejoin="round" stroke-linecap="round" />
<polyline points="10.0,198.0 10.0,198.4 22.6,195.4 37.6,192.9 50.2,197.4 62.7,204.2 72.8,210.5 82.8,213.0 94.1,215.5 104.1,220.5 125.5,220.0 130.5,212.5 163.1,212.2 175.7,206.7 185.7,199.2 193.2,194.9 200.8,192.4 208.3,187.9 215.8,177.8 223.3,167.8 230.9,155.2 238.4,144.0 248.4,140.9 256.0,138.9 266.0,131.4 273.5,126.4 283.6,123.1 296.1,125.1 308.7,128.9 326.2,132.7 342.5,133.9 353.8,127.6 365.1,120.6 389.0,120.6 400.0,119.6 400.0,120.6 410.0,123.9 422.6,125.1 432.6,127.6 440.2,133.9 448.9,140.2 457.7,149.0 465.2,154.7 472.8,157.8 482.8,159.8 492.8,160.8 500.4,165.3 507.9,171.6 515.4,181.6 523.0,189.1 530.5,196.6 538.0,204.2 548.1,215.5 558.1,226.8 566.9,239.3 575.7,254.4 583.2,260.6 590.7,265.7 598.2,267.7 605.8,271.2 613.3,273.2 620.8,270.7 628.4,274.4 635.9,275.7 640.9,278.0 648.4,285.5 658.5,295.6 666.0,305.6 673.5,313.1 683.6,319.4 692.3,328.2 701.1,339.5 711.2,350.8 718.7,357.0 728.7,360.8 738.8,367.1 748.8,372.9 761.4,373.4 781.4,373.4 789.0,379.6 800.0,389.7 801.6,388.1 814.2,392.8 825.0,397.5 834.1,402.5 843.1,402.9 851.0,401.7 859.0,396.1 867.0,384.7 875.0,384.7 890.1,362.1 898.1,361.7 905.1,361.1 912.1,359.5 920.1,361.1 928.1,361.7 944.1,362.5 950.1,363.1 957.1,370.1 965.1,371.1 972.1,366.1 980.1,359.1 987.1,354.1 994.2,343.1 1002.2,329.1 1010.2,310.0 1017.2,300.0 1025.2,293.0 1032.2,284.0" fill="none" stroke="#ff9800" stroke-width="2.05" stroke-linejoin="round" stroke-linecap="round" />
<polyline points="10.0,180.8 10.0,180.8 43.9,180.8 57.7,184.9 65.7,189.9 156.8,189.9 163.1,202.9 175.7,203.4 185.7,204.2 198.2,199.2 208.3,194.1 218.3,184.1 228.4,172.8 238.4,162.8 247.2,158.3 400.0,158.3 400.0,158.3 447.7,158.3 454.7,151.0 477.8,150.7 485.3,150.2 500.4,150.2 507.9,147.2 515.4,152.7 525.5,160.3 538.0,169.8 545.5,177.3 553.1,183.4 560.6,183.9 570.6,187.4 583.2,191.6 628.4,191.6 635.9,194.6 642.2,194.9 649.7,204.2 661.0,214.2 673.0,225.0 681.1,226.0 733.8,226.0 740.0,228.0 746.3,234.3 755.1,241.8 762.6,253.1 768.9,261.9 776.4,262.1 786.4,265.7 800.0,271.9 801.4,272.8 811.4,274.0 821.4,283.4 830.2,283.8 835.2,290.3 839.0,294.0 840.0,295.0 845.0,299.0 852.0,299.0 860.0,301.4 875.0,301.4 881.0,315.0 890.1,326.1 900.1,338.1 912.1,352.1 920.1,355.7 926.5,362.1 987.1,362.1 994.2,353.1 1002.2,341.1 1010.2,333.1 1017.2,330.1 1025.2,326.7 1032.2,318.0" fill="none" stroke="#9c27b0" stroke-width="2.2" stroke-linejoin="round" stroke-linecap="round" />
<polyline points="10.3,139.8 17.1,144.9 23.9,141.5 42.7,151.7 58.1,165.4 71.8,175.7 77.8,177.3 87.3,194.1 95.9,191.6 102.9,206.7 111.2,190.4 117.9,197.9 130.5,215.5 140.5,238.1 150.6,258.1 160.6,278.0 168.1,295.6 178.2,319.4 185.7,305.1 193.2,316.9 200.8,326.9 207.8,335.7 215.8,312.6 222.8,306.9 230.9,320.2 237.9,296.8 245.9,314.4 253.5,320.2 259.7,321.2 268.0,329.4 276.0,348.3 283.6,364.6 290.6,385.9 298.1,404.7 305.6,390.9 312.9,377.1 319.9,400.2 327.5,383.4 335.0,367.1 342.5,372.1 350.1,384.6 357.6,398.5 365.1,413.5 372.6,414.8 380.2,404.2 387.7,401.0 395.2,413.5 400.0,419.8 403.8,423.0 410.0,416.8 418.1,437.3 425.1,426.1 432.6,428.1 440.2,423.0 448.2,413.5 455.7,393.4 463.2,376.6 470.5,387.9 478.3,357.0 485.8,345.8 493.4,344.5 500.6,343.2 508.2,321.9 515.7,333.7 523.2,339.5 530.7,355.8 538.3,374.6 545.8,389.7 553.1,377.1 560.6,392.9 568.1,384.6 575.7,375.4 583.2,358.3 590.7,338.2 598.2,319.4 605.8,301.8 613.3,289.3 618.3,278.0 619.6,270.7 627.1,264.4 634.6,238.1 642.9,256.9 650.9,226.8 658.5,213.5" fill="none" stroke="#4caf50" stroke-width="2.05" stroke-linejoin="round" stroke-linecap="round" />
<polyline points="10.0,199.2 21.3,192.9 37.6,177.8 44.4,165.4 56.4,156.9 71.8,151.7 85.5,150.0 104.3,150.4 119.7,150.0 126.5,147.5 147.0,147.5 153.8,143.2 162.4,136.3 170.9,130.4 177.8,122.7 201.7,122.3 207.7,115.8 218.3,118.1 230.9,119.6 247.2,120.1 261.0,126.4 267.3,135.2 276.0,142.7 288.6,146.5 301.1,147.7 312.4,149.0 323.7,157.3 338.8,170.3 351.3,182.8 361.4,195.4 371.4,201.7 378.9,213.0 387.7,225.5 400.0,230.0 410.0,231.8 418.8,231.8 425.1,233.5 432.6,233.8 440.2,241.3 447.7,241.6 455.2,250.6 465.2,260.6 472.8,269.4 480.3,278.0 486.6,283.0 494.1,285.5 500.4,298.1 510.4,309.4 520.5,320.7 530.5,332.0 540.5,338.2 551.8,343.7 560.6,353.3 598.2,353.8 608.3,359.6 618.3,362.1 628.4,369.6 635.9,370.8 643.4,382.1 650.9,394.7 658.5,401.0 666.0,401.0 673.5,395.9 681.1,388.4 691.1,383.4 697.4,377.1 703.6,373.4 781.4,373.4 789.0,372.1 800.0,364.6 805.3,346.7 813.7,335.0 822.0,316.7 832.0,306.7 843.7,299.3" fill="none" stroke="#e53950" stroke-width="2.05" stroke-linejoin="round" stroke-linecap="round" />
<polyline points="10.0,187.4 23.8,177.8 34.2,151.7 46.2,127.8 58.1,112.4 71.8,105.6 82.1,102.2 95.7,97.0 106.0,100.4 119.7,109.0 133.3,115.8 145.3,121.0 153.8,126.9 160.7,123.5 163.1,121.4 175.7,118.9 200.8,118.9 208.3,122.1 218.3,127.1 230.9,130.2 244.7,135.2 253.5,144.0 263.5,155.7 273.5,165.3 283.6,170.3 293.6,174.1 304.9,176.6 313.7,184.1 323.7,195.4 333.8,213.0 346.3,230.5 358.8,245.6 371.4,260.6 383.9,277.0 389.0,285.5 395.2,296.1 400.0,301.1 407.5,305.6 415.1,313.1 425.1,319.4 435.1,313.1 448.9,313.1 460.2,315.6 470.3,326.9 485.3,342.0 492.8,343.7 500.4,350.8 509.2,351.3 517.9,363.3 530.5,379.6 540.5,380.9 550.6,383.4 560.6,392.2 575.7,392.2 587.0,392.2 598.2,403.5 605.8,408.5 613.3,418.0 633.4,418.5 642.9,422.3 650.9,414.8 661.0,403.5 671.0,395.9 678.5,386.4 688.6,385.9 696.1,363.3 703.6,350.8 713.7,349.5 723.7,345.8 728.7,349.0 738.8,349.0 751.3,351.3 762.6,352.0 768.9,364.6 773.9,369.6 781.4,358.3 791.5,348.3 800.0,343.7 808.7,316.7 815.3,305.0 822.0,293.3 832.0,281.7 844.7,270.0" fill="none" stroke="#2962ff" stroke-width="2.05" stroke-linejoin="round" stroke-linecap="round" />
<circle cx="13.8" cy="209.2" r="2.45" fill="#2962ff"/>
<circle cx="21.3" cy="203.4" r="2.45" fill="#2962ff"/>
<circle cx="28.9" cy="197.4" r="2.45" fill="#2962ff"/>
<circle cx="36.4" cy="191.4" r="2.45" fill="#2962ff"/>
<circle cx="43.9" cy="185.6" r="2.45" fill="#2962ff"/>
<circle cx="51.4" cy="177.8" r="2.45" fill="#2962ff"/>
<circle cx="58.5" cy="169.5" r="2.45" fill="#2962ff"/>
<circle cx="66.7" cy="158.6" r="2.45" fill="#2962ff"/>
<circle cx="73.5" cy="154.3" r="2.45" fill="#2962ff"/>
<circle cx="81.2" cy="150.0" r="2.45" fill="#2962ff"/>
<circle cx="88.0" cy="144.9" r="2.45" fill="#2962ff"/>
<circle cx="96.2" cy="139.8" r="2.45" fill="#2962ff"/>
<circle cx="103.4" cy="136.3" r="2.45" fill="#2962ff"/>
<circle cx="111.1" cy="132.1" r="2.45" fill="#2962ff"/>
<circle cx="118.5" cy="127.8" r="2.45" fill="#2962ff"/>
<circle cx="126.0" cy="124.4" r="2.45" fill="#2962ff"/>
<circle cx="133.5" cy="121.8" r="2.45" fill="#2962ff"/>
<circle cx="141.0" cy="119.6" r="2.45" fill="#2962ff"/>
<circle cx="148.5" cy="117.5" r="2.45" fill="#2962ff"/>
<circle cx="156.4" cy="115.5" r="2.45" fill="#2962ff"/>
<circle cx="163.6" cy="114.3" r="2.45" fill="#2962ff"/>
<circle cx="171.4" cy="113.1" r="2.45" fill="#2962ff"/>
<circle cx="178.7" cy="112.6" r="2.45" fill="#2962ff"/>
<circle cx="186.2" cy="112.8" r="2.45" fill="#2962ff"/>
<circle cx="193.2" cy="113.8" r="2.45" fill="#2962ff"/>
<circle cx="200.8" cy="115.8" r="2.45" fill="#2962ff"/>
<circle cx="208.8" cy="120.1" r="2.45" fill="#2962ff"/>
<circle cx="216.3" cy="122.9" r="2.45" fill="#2962ff"/>
<circle cx="223.8" cy="125.6" r="2.45" fill="#2962ff"/>
<circle cx="231.4" cy="127.6" r="2.45" fill="#2962ff"/>
<circle cx="238.4" cy="130.2" r="2.45" fill="#2962ff"/>
<circle cx="246.4" cy="132.7" r="2.45" fill="#2962ff"/>
<circle cx="253.5" cy="135.4" r="2.45" fill="#2962ff"/>
<circle cx="261.0" cy="136.7" r="2.45" fill="#2962ff"/>
<circle cx="268.5" cy="139.7" r="2.45" fill="#2962ff"/>
<circle cx="275.5" cy="143.5" r="2.45" fill="#2962ff"/>
<circle cx="283.1" cy="146.7" r="2.45" fill="#2962ff"/>
<circle cx="290.6" cy="149.5" r="2.45" fill="#2962ff"/>
<circle cx="298.1" cy="152.2" r="2.45" fill="#2962ff"/>
<circle cx="305.6" cy="156.5" r="2.45" fill="#2962ff"/>
<circle cx="313.2" cy="161.8" r="2.45" fill="#2962ff"/>
<circle cx="320.7" cy="167.8" r="2.45" fill="#2962ff"/>
<circle cx="328.2" cy="174.6" r="2.45" fill="#2962ff"/>
<circle cx="335.8" cy="180.3" r="2.45" fill="#2962ff"/>
<circle cx="343.3" cy="187.4" r="2.45" fill="#2962ff"/>
<circle cx="350.8" cy="193.9" r="2.45" fill="#2962ff"/>
<circle cx="358.3" cy="200.9" r="2.45" fill="#2962ff"/>
<circle cx="365.9" cy="209.2" r="2.45" fill="#2962ff"/>
<circle cx="373.4" cy="216.7" r="2.45" fill="#2962ff"/>
<circle cx="380.9" cy="224.8" r="2.45" fill="#2962ff"/>
<circle cx="388.5" cy="233.5" r="2.45" fill="#2962ff"/>
<circle cx="396.0" cy="242.1" r="2.45" fill="#2962ff"/>
<circle cx="403.3" cy="249.3" r="2.45" fill="#2962ff"/>
<circle cx="410.5" cy="256.4" r="2.45" fill="#2962ff"/>
<circle cx="418.3" cy="263.1" r="2.45" fill="#2962ff"/>
<circle cx="425.6" cy="268.4" r="2.45" fill="#2962ff"/>
<circle cx="433.1" cy="275.2" r="2.45" fill="#2962ff"/>
<circle cx="440.7" cy="281.3" r="2.45" fill="#2962ff"/>
<circle cx="448.2" cy="288.5" r="2.45" fill="#2962ff"/>
<circle cx="455.7" cy="294.3" r="2.45" fill="#2962ff"/>
<circle cx="463.2" cy="302.3" r="2.45" fill="#2962ff"/>
<circle cx="470.5" cy="309.4" r="2.45" fill="#2962ff"/>
<circle cx="478.3" cy="316.4" r="2.45" fill="#2962ff"/>
<circle cx="485.8" cy="323.4" r="2.45" fill="#2962ff"/>
<circle cx="493.4" cy="330.4" r="2.45" fill="#2962ff"/>
<circle cx="500.6" cy="335.0" r="2.45" fill="#2962ff"/>
<circle cx="508.2" cy="339.2" r="2.45" fill="#2962ff"/>
<circle cx="515.7" cy="342.2" r="2.45" fill="#2962ff"/>
<circle cx="523.2" cy="345.3" r="2.45" fill="#2962ff"/>
<circle cx="530.7" cy="348.3" r="2.45" fill="#2962ff"/>
<circle cx="538.3" cy="351.3" r="2.45" fill="#2962ff"/>
<circle cx="545.8" cy="354.5" r="2.45" fill="#2962ff"/>
<circle cx="553.1" cy="359.6" r="2.45" fill="#2962ff"/>
<circle cx="560.6" cy="364.6" r="2.45" fill="#2962ff"/>
<circle cx="568.1" cy="369.6" r="2.45" fill="#2962ff"/>
<circle cx="575.7" cy="374.1" r="2.45" fill="#2962ff"/>
<circle cx="583.2" cy="379.6" r="2.45" fill="#2962ff"/>
<circle cx="590.7" cy="384.6" r="2.45" fill="#2962ff"/>
<circle cx="598.2" cy="389.2" r="2.45" fill="#2962ff"/>
<circle cx="605.8" cy="395.2" r="2.45" fill="#2962ff"/>
<circle cx="613.3" cy="399.7" r="2.45" fill="#2962ff"/>
<circle cx="620.6" cy="402.7" r="2.45" fill="#2962ff"/>
<circle cx="628.1" cy="404.7" r="2.45" fill="#2962ff"/>
<circle cx="635.6" cy="404.7" r="2.45" fill="#2962ff"/>
<circle cx="643.2" cy="405.2" r="2.45" fill="#2962ff"/>
<circle cx="650.7" cy="404.7" r="2.45" fill="#2962ff"/>
<circle cx="658.2" cy="403.5" r="2.45" fill="#2962ff"/>
<circle cx="665.5" cy="402.2" r="2.45" fill="#2962ff"/>
<circle cx="673.0" cy="401.5" r="2.45" fill="#2962ff"/>
<circle cx="680.6" cy="401.0" r="2.45" fill="#2962ff"/>
<circle cx="688.1" cy="398.5" r="2.45" fill="#2962ff"/>
<circle cx="695.6" cy="393.4" r="2.45" fill="#2962ff"/>
<circle cx="703.1" cy="389.2" r="2.45" fill="#2962ff"/>
<circle cx="710.7" cy="385.4" r="2.45" fill="#2962ff"/>
<circle cx="718.2" cy="383.4" r="2.45" fill="#2962ff"/>
<circle cx="725.7" cy="382.1" r="2.45" fill="#2962ff"/>
<circle cx="733.0" cy="380.9" r="2.45" fill="#2962ff"/>
<circle cx="740.5" cy="379.6" r="2.45" fill="#2962ff"/>
<circle cx="748.1" cy="377.1" r="2.45" fill="#2962ff"/>
<circle cx="755.6" cy="375.1" r="2.45" fill="#2962ff"/>
<circle cx="763.1" cy="373.4" r="2.45" fill="#2962ff"/>
<circle cx="770.6" cy="368.3" r="2.45" fill="#2962ff"/>
<circle cx="778.2" cy="365.3" r="2.45" fill="#2962ff"/>
<circle cx="785.4" cy="360.3" r="2.45" fill="#2962ff"/>
<circle cx="793.0" cy="356.3" r="2.45" fill="#2962ff"/>
<circle cx="800.5" cy="352.0" r="2.45" fill="#2962ff"/>
<circle cx="808.0" cy="347.5" r="2.45" fill="#2962ff"/>
<circle cx="815.5" cy="342.0" r="2.45" fill="#2962ff"/>
<circle cx="823.0" cy="337.0" r="2.45" fill="#2962ff"/>
<circle cx="830.5" cy="331.0" r="2.45" fill="#2962ff"/>
<circle cx="838.0" cy="324.5" r="2.45" fill="#2962ff"/>
<circle cx="845.5" cy="317.7" r="2.45" fill="#2962ff"/>
<line x1="755.5" y1="404" x2="927.5" y2="91.3" stroke="#2962ff" stroke-width="2"/>
<line x1="10" y1="214.5" x2="1510" y2="214.5" stroke="#089981" stroke-width="1" stroke-dasharray="1,2"/>
<line x1="13.5" y1="160.3" x2="13.5" y2="172.2" stroke="#089981" stroke-width="1"/>
<rect x="11.0" y="162.8" width="5" height="7.7" fill="#089981"/>
<line x1="21.5" y1="140.6" x2="21.5" y2="144.9" stroke="#089981" stroke-width="1"/>
<rect x="19.0" y="140.6" width="5" height="2.6" fill="#089981"/>
<line x1="28.5" y1="122.7" x2="28.5" y2="129.5" stroke="#089981" stroke-width="1"/>
<rect x="26.0" y="124.4" width="5" height="3.4" fill="#089981"/>
<line x1="36.5" y1="110.7" x2="36.5" y2="117.5" stroke="#089981" stroke-width="1"/>
<rect x="34.0" y="112.4" width="5" height="2.6" fill="#089981"/>
<line x1="43.5" y1="97.0" x2="43.5" y2="112.4" stroke="#089981" stroke-width="1"/>
<rect x="41.0" y="97.0" width="5" height="10.3" fill="#089981"/>
<line x1="51.5" y1="85.1" x2="51.5" y2="114.1" stroke="#089981" stroke-width="1"/>
<rect x="49.0" y="85.1" width="5" height="14.5" fill="#089981"/>
<line x1="58.5" y1="73.1" x2="58.5" y2="95.3" stroke="#089981" stroke-width="1"/>
<rect x="56.0" y="76.5" width="5" height="6.8" fill="#089981"/>
<line x1="66.5" y1="93.6" x2="66.5" y2="96.5" stroke="#089981" stroke-width="1"/>
<rect x="64.0" y="95.6" width="5" height="1.2" fill="#089981"/>
<line x1="73.5" y1="83.4" x2="73.5" y2="110.7" stroke="#f23645" stroke-width="1"/>
<rect x="71.0" y="94.5" width="5" height="16.2" fill="#f23645"/>
<line x1="81.5" y1="98.7" x2="81.5" y2="114.1" stroke="#089981" stroke-width="1"/>
<rect x="79.0" y="107.3" width="5" height="3.4" fill="#089981"/>
<line x1="88.5" y1="94.5" x2="88.5" y2="107.3" stroke="#089981" stroke-width="1"/>
<rect x="86.0" y="94.5" width="5" height="9.4" fill="#089981"/>
<rect x="94.0" y="108.7" width="5" height="1.2" fill="#089981"/>
<rect x="101.0" y="123.8" width="5" height="1.2" fill="#089981"/>
<line x1="111.5" y1="127.8" x2="111.5" y2="139.8" stroke="#f23645" stroke-width="1"/>
<rect x="109.0" y="133.8" width="5" height="6.0" fill="#f23645"/>
<line x1="118.5" y1="123.5" x2="118.5" y2="145.7" stroke="#089981" stroke-width="1"/>
<rect x="116.0" y="123.5" width="5" height="6.0" fill="#089981"/>
<rect x="124.0" y="123.8" width="5" height="1.2" fill="#089981"/>
<rect x="131.0" y="128.6" width="5" height="3.4" fill="#f23645"/>
<line x1="141.5" y1="132.9" x2="141.5" y2="145.7" stroke="#f23645" stroke-width="1"/>
<rect x="139.0" y="132.9" width="5" height="8.5" fill="#f23645"/>
<rect x="146.0" y="123.8" width="5" height="1.2" fill="#089981"/>
<rect x="154.0" y="111.6" width="5" height="1.2" fill="#089981"/>
<line x1="163.5" y1="101.3" x2="163.5" y2="119.6" stroke="#089981" stroke-width="1"/>
<rect x="161.0" y="108.8" width="5" height="6.3" fill="#089981"/>
<line x1="171.5" y1="94.5" x2="171.5" y2="121.4" stroke="#f23645" stroke-width="1"/>
<rect x="169.0" y="104.3" width="5" height="9.5" fill="#f23645"/>
<line x1="178.5" y1="98.3" x2="178.5" y2="116.3" stroke="#089981" stroke-width="1"/>
<rect x="176.0" y="102.0" width="5" height="8.5" fill="#089981"/>
<line x1="186.5" y1="106.3" x2="186.5" y2="121.4" stroke="#f23645" stroke-width="1"/>
<rect x="184.0" y="110.1" width="5" height="10.5" fill="#f23645"/>
<rect x="191.0" y="122.1" width="5" height="9.3" fill="#f23645"/>
<line x1="201.5" y1="142.7" x2="201.5" y2="145.2" stroke="#089981" stroke-width="1"/>
<rect x="199.0" y="144.1" width="5" height="1.2" fill="#089981"/>
<line x1="208.5" y1="137.2" x2="208.5" y2="156.5" stroke="#f23645" stroke-width="1"/>
<rect x="206.0" y="146.5" width="5" height="1.5" fill="#f23645"/>
<line x1="216.5" y1="154.0" x2="216.5" y2="162.3" stroke="#f23645" stroke-width="1"/>
<rect x="214.0" y="155.7" width="5" height="5.8" fill="#f23645"/>
<line x1="223.5" y1="145.2" x2="223.5" y2="166.5" stroke="#089981" stroke-width="1"/>
<rect x="221.0" y="148.2" width="5" height="9.0" fill="#089981"/>
<line x1="231.5" y1="142.2" x2="231.5" y2="154.0" stroke="#f23645" stroke-width="1"/>
<rect x="229.0" y="145.7" width="5" height="7.0" fill="#f23645"/>
<line x1="238.5" y1="146.5" x2="238.5" y2="157.3" stroke="#f23645" stroke-width="1"/>
<rect x="236.0" y="151.5" width="5" height="5.0" fill="#f23645"/>
<line x1="246.5" y1="145.7" x2="246.5" y2="161.5" stroke="#f23645" stroke-width="1"/>
<rect x="244.0" y="150.7" width="5" height="9.0" fill="#f23645"/>
<line x1="253.5" y1="161.5" x2="253.5" y2="169.0" stroke="#f23645" stroke-width="1"/>
<rect x="251.0" y="162.8" width="5" height="5.5" fill="#f23645"/>
<line x1="260.5" y1="159.0" x2="260.5" y2="172.8" stroke="#f23645" stroke-width="1"/>
<rect x="258.0" y="163.5" width="5" height="9.3" fill="#f23645"/>
<rect x="266.0" y="174.6" width="5" height="7.0" fill="#f23645"/>
<line x1="275.5" y1="187.4" x2="275.5" y2="196.6" stroke="#f23645" stroke-width="1"/>
<rect x="273.0" y="190.4" width="5" height="5.0" fill="#f23645"/>
<line x1="283.5" y1="182.8" x2="283.5" y2="202.4" stroke="#089981" stroke-width="1"/>
<rect x="281.0" y="192.4" width="5" height="9.3" fill="#089981"/>
<line x1="290.5" y1="189.1" x2="290.5" y2="207.9" stroke="#f23645" stroke-width="1"/>
<rect x="288.0" y="191.1" width="5" height="16.3" fill="#f23645"/>
<line x1="298.5" y1="189.1" x2="298.5" y2="205.4" stroke="#089981" stroke-width="1"/>
<rect x="296.0" y="189.6" width="5" height="10.0" fill="#089981"/>
<line x1="305.5" y1="187.4" x2="305.5" y2="201.7" stroke="#f23645" stroke-width="1"/>
<rect x="303.0" y="192.4" width="5" height="7.5" fill="#f23645"/>
<rect x="311.0" y="209.9" width="5" height="1.2" fill="#089981"/>
<rect x="318.0" y="224.9" width="5" height="1.2" fill="#089981"/>
<rect x="326.0" y="240.0" width="5" height="1.2" fill="#089981"/>
<rect x="333.0" y="255.0" width="5" height="1.2" fill="#089981"/>
<rect x="341.0" y="269.6" width="5" height="1.2" fill="#089981"/>
<line x1="350.5" y1="276.0" x2="350.5" y2="285.5" stroke="#f23645" stroke-width="1"/>
<rect x="348.0" y="281.8" width="5" height="3.8" fill="#f23645"/>
<line x1="358.5" y1="294.3" x2="358.5" y2="303.8" stroke="#f23645" stroke-width="1"/>
<rect x="356.0" y="296.8" width="5" height="7.0" fill="#f23645"/>
<rect x="363.0" y="318.1" width="5" height="1.2" fill="#089981"/>
<line x1="373.5" y1="300.1" x2="373.5" y2="317.6" stroke="#089981" stroke-width="1"/>
<rect x="371.0" y="305.1" width="5" height="5.0" fill="#089981"/>
<line x1="380.5" y1="308.1" x2="380.5" y2="325.7" stroke="#f23645" stroke-width="1"/>
<rect x="378.0" y="309.4" width="5" height="8.3" fill="#f23645"/>
<line x1="388.5" y1="311.9" x2="388.5" y2="333.7" stroke="#f23645" stroke-width="1"/>
<rect x="386.0" y="316.1" width="5" height="12.5" fill="#f23645"/>
<line x1="395.5" y1="323.2" x2="395.5" y2="340.7" stroke="#f23645" stroke-width="1"/>
<rect x="393.0" y="326.2" width="5" height="10.8" fill="#f23645"/>
<line x1="403.5" y1="313.1" x2="403.5" y2="335.7" stroke="#089981" stroke-width="1"/>
<rect x="401.0" y="313.1" width="5" height="17.6" fill="#089981"/>
<line x1="410.5" y1="301.1" x2="410.5" y2="311.9" stroke="#089981" stroke-width="1"/>
<rect x="408.0" y="306.9" width="5" height="3.8" fill="#089981"/>
<line x1="418.5" y1="306.1" x2="418.5" y2="325.7" stroke="#f23645" stroke-width="1"/>
<rect x="416.0" y="308.9" width="5" height="11.8" fill="#f23645"/>
<line x1="425.5" y1="296.8" x2="425.5" y2="319.4" stroke="#089981" stroke-width="1"/>
<rect x="423.0" y="296.8" width="5" height="21.3" fill="#089981"/>
<line x1="433.5" y1="286.8" x2="433.5" y2="316.9" stroke="#f23645" stroke-width="1"/>
<rect x="431.0" y="295.1" width="5" height="20.6" fill="#f23645"/>
<line x1="440.5" y1="315.1" x2="440.5" y2="320.2" stroke="#f23645" stroke-width="1"/>
<rect x="438.0" y="318.2" width="5" height="2.0" fill="#f23645"/>
<line x1="448.5" y1="300.6" x2="448.5" y2="325.7" stroke="#f23645" stroke-width="1"/>
<rect x="446.0" y="301.8" width="5" height="19.3" fill="#f23645"/>
<line x1="455.5" y1="320.2" x2="455.5" y2="329.4" stroke="#f23645" stroke-width="1"/>
<rect x="453.0" y="323.9" width="5" height="5.5" fill="#f23645"/>
<line x1="463.5" y1="342.7" x2="463.5" y2="347.3" stroke="#f23645" stroke-width="1"/>
<rect x="461.0" y="344.8" width="5" height="2.5" fill="#f23645"/>
<rect x="468.0" y="364.7" width="5" height="1.2" fill="#089981"/>
<line x1="478.5" y1="380.9" x2="478.5" y2="385.9" stroke="#089981" stroke-width="1"/>
<rect x="476.0" y="384.8" width="5" height="1.2" fill="#089981"/>
<line x1="485.5" y1="389.7" x2="485.5" y2="405.5" stroke="#f23645" stroke-width="1"/>
<rect x="483.0" y="393.9" width="5" height="11.5" fill="#f23645"/>
<line x1="493.5" y1="383.4" x2="493.5" y2="406.5" stroke="#089981" stroke-width="1"/>
<rect x="491.0" y="392.9" width="5" height="7.5" fill="#089981"/>
<line x1="500.5" y1="377.1" x2="500.5" y2="395.9" stroke="#089981" stroke-width="1"/>
<rect x="498.0" y="377.1" width="5" height="10.8" fill="#089981"/>
<line x1="508.5" y1="367.1" x2="508.5" y2="403.5" stroke="#f23645" stroke-width="1"/>
<rect x="506.0" y="367.1" width="5" height="33.9" fill="#f23645"/>
<line x1="515.5" y1="378.4" x2="515.5" y2="400.5" stroke="#089981" stroke-width="1"/>
<rect x="513.0" y="384.1" width="5" height="12.3" fill="#089981"/>
<rect x="521.0" y="368.3" width="5" height="4.5" fill="#089981"/>
<line x1="530.5" y1="355.8" x2="530.5" y2="378.4" stroke="#f23645" stroke-width="1"/>
<rect x="528.0" y="362.1" width="5" height="11.8" fill="#f23645"/>
<line x1="538.5" y1="368.8" x2="538.5" y2="387.2" stroke="#f23645" stroke-width="1"/>
<rect x="536.0" y="374.6" width="5" height="10.0" fill="#f23645"/>
<line x1="545.5" y1="383.9" x2="545.5" y2="400.2" stroke="#f23645" stroke-width="1"/>
<rect x="543.0" y="383.9" width="5" height="15.3" fill="#f23645"/>
<line x1="553.5" y1="408.0" x2="553.5" y2="414.8" stroke="#f23645" stroke-width="1"/>
<rect x="551.0" y="410.2" width="5" height="4.5" fill="#f23645"/>
<line x1="560.5" y1="410.2" x2="560.5" y2="432.3" stroke="#089981" stroke-width="1"/>
<rect x="558.0" y="414.8" width="5" height="17.6" fill="#089981"/>
<line x1="568.5" y1="405.5" x2="568.5" y2="410.0" stroke="#089981" stroke-width="1"/>
<rect x="566.0" y="405.5" width="5" height="3.5" fill="#089981"/>
<rect x="573.0" y="388.4" width="5" height="13.8" fill="#f23645"/>
<line x1="583.5" y1="395.4" x2="583.5" y2="413.5" stroke="#f23645" stroke-width="1"/>
<rect x="581.0" y="399.7" width="5" height="13.8" fill="#f23645"/>
<rect x="588.0" y="416.0" width="5" height="7.5" fill="#f23645"/>
<line x1="598.5" y1="408.5" x2="598.5" y2="431.6" stroke="#089981" stroke-width="1"/>
<rect x="596.0" y="417.3" width="5" height="6.3" fill="#089981"/>
<line x1="605.5" y1="416.5" x2="605.5" y2="438.6" stroke="#f23645" stroke-width="1"/>
<rect x="603.0" y="419.8" width="5" height="18.8" fill="#f23645"/>
<line x1="613.5" y1="418.5" x2="613.5" y2="451.7" stroke="#089981" stroke-width="1"/>
<rect x="611.0" y="426.1" width="5" height="22.6" fill="#089981"/>
<line x1="620.5" y1="415.5" x2="620.5" y2="441.1" stroke="#089981" stroke-width="1"/>
<rect x="618.0" y="428.1" width="5" height="11.8" fill="#089981"/>
<line x1="628.5" y1="417.3" x2="628.5" y2="442.4" stroke="#089981" stroke-width="1"/>
<rect x="626.0" y="422.8" width="5" height="17.8" fill="#089981"/>
<line x1="635.5" y1="413.0" x2="635.5" y2="416.5" stroke="#089981" stroke-width="1"/>
<rect x="633.0" y="412.9" width="5" height="1.2" fill="#089981"/>
<line x1="643.5" y1="394.2" x2="643.5" y2="399.7" stroke="#089981" stroke-width="1"/>
<rect x="641.0" y="394.2" width="5" height="3.8" fill="#089981"/>
<line x1="650.5" y1="377.1" x2="650.5" y2="381.4" stroke="#089981" stroke-width="1"/>
<rect x="648.0" y="377.8" width="5" height="1.2" fill="#089981"/>
<line x1="658.5" y1="362.6" x2="658.5" y2="396.4" stroke="#f23645" stroke-width="1"/>
<rect x="656.0" y="374.1" width="5" height="15.6" fill="#f23645"/>
<line x1="665.5" y1="358.3" x2="665.5" y2="388.4" stroke="#089981" stroke-width="1"/>
<rect x="663.0" y="358.3" width="5" height="24.6" fill="#089981"/>
<rect x="671.0" y="346.3" width="5" height="5.8" fill="#089981"/>
<line x1="680.5" y1="329.4" x2="680.5" y2="356.3" stroke="#f23645" stroke-width="1"/>
<rect x="678.0" y="330.7" width="5" height="13.8" fill="#f23645"/>
<line x1="688.5" y1="333.2" x2="688.5" y2="359.6" stroke="#089981" stroke-width="1"/>
<rect x="686.0" y="343.9" width="5" height="1.2" fill="#089981"/>
<rect x="693.0" y="321.9" width="5" height="19.3" fill="#089981"/>
<line x1="703.5" y1="306.1" x2="703.5" y2="339.5" stroke="#f23645" stroke-width="1"/>
<rect x="701.0" y="306.1" width="5" height="27.6" fill="#f23645"/>
<line x1="710.5" y1="333.2" x2="710.5" y2="340.7" stroke="#f23645" stroke-width="1"/>
<rect x="708.0" y="335.2" width="5" height="5.5" fill="#f23645"/>
<line x1="718.5" y1="352.0" x2="718.5" y2="358.8" stroke="#f23645" stroke-width="1"/>
<rect x="716.0" y="356.3" width="5" height="2.5" fill="#f23645"/>
<rect x="723.0" y="376.5" width="5" height="1.2" fill="#089981"/>
<rect x="731.0" y="392.2" width="5" height="5.5" fill="#089981"/>
<rect x="738.0" y="377.1" width="5" height="4.5" fill="#089981"/>
<line x1="748.5" y1="368.3" x2="748.5" y2="397.9" stroke="#f23645" stroke-width="1"/>
<rect x="746.0" y="377.1" width="5" height="16.8" fill="#f23645"/>
<line x1="755.5" y1="380.9" x2="755.5" y2="404.0" stroke="#089981" stroke-width="1"/>
<rect x="753.0" y="383.4" width="5" height="20.6" fill="#089981"/>
<line x1="762.5" y1="373.4" x2="762.5" y2="377.1" stroke="#089981" stroke-width="1"/>
<rect x="760.0" y="374.0" width="5" height="1.2" fill="#089981"/>
<rect x="768.0" y="355.7" width="5" height="1.2" fill="#089981"/>
<rect x="775.0" y="336.6" width="5" height="1.2" fill="#089981"/>
<rect x="783.0" y="317.6" width="5" height="1.2" fill="#089981"/>
<line x1="792.5" y1="297.6" x2="792.5" y2="332.0" stroke="#089981" stroke-width="1"/>
<rect x="790.0" y="303.1" width="5" height="20.1" fill="#089981"/>
<rect x="798.0" y="289.7" width="5" height="1.2" fill="#089981"/>
<rect x="805.0" y="270.9" width="5" height="1.2" fill="#089981"/>
<line x1="815.5" y1="252.1" x2="815.5" y2="270.9" stroke="#f23645" stroke-width="1"/>
<rect x="813.0" y="252.1" width="5" height="13.4" fill="#f23645"/>
<line x1="822.5" y1="238.0" x2="822.5" y2="267.8" stroke="#089981" stroke-width="1"/>
<rect x="820.0" y="238.0" width="5" height="26.6" fill="#089981"/>
<line x1="830.5" y1="233.2" x2="830.5" y2="261.5" stroke="#f23645" stroke-width="1"/>
<rect x="828.0" y="243.3" width="5" height="14.4" fill="#f23645"/>
<line x1="837.5" y1="228.2" x2="837.5" y2="254.0" stroke="#089981" stroke-width="1"/>
<rect x="835.0" y="228.2" width="5" height="17.3" fill="#089981"/>
<line x1="845.5" y1="211.9" x2="845.5" y2="224.5" stroke="#089981" stroke-width="1"/>
<rect x="843.0" y="214.1" width="5" height="5.4" fill="#089981"/>
</g>
<g clip-path="url(#cmacd)">
<rect x="11.0" y="575.1" width="4" height="5.6" fill="#388e3c"/>
<rect x="19.0" y="573.7" width="4" height="7.0" fill="#388e3c"/>
<rect x="26.0" y="572.4" width="4" height="8.3" fill="#388e3c"/>
<rect x="34.0" y="570.5" width="4" height="10.2" fill="#388e3c"/>
<rect x="41.0" y="568.9" width="4" height="11.8" fill="#388e3c"/>
<rect x="49.0" y="567.8" width="4" height="12.9" fill="#388e3c"/>
<rect x="56.0" y="567.8" width="4" height="12.9" fill="#388e3c"/>
<rect x="64.0" y="570.2" width="4" height="10.5" fill="#a5d6a7"/>
<rect x="71.0" y="573.2" width="4" height="7.5" fill="#a5d6a7"/>
<rect x="79.0" y="575.3" width="4" height="5.4" fill="#a5d6a7"/>
<rect x="86.0" y="576.4" width="4" height="4.3" fill="#a5d6a7"/>
<rect x="94.0" y="578.0" width="4" height="2.7" fill="#a5d6a7"/>
<rect x="101.0" y="580.7" width="4" height="0.6" fill="#e91e63"/>
<rect x="109.0" y="580.7" width="4" height="3.3" fill="#e91e63"/>
<rect x="116.0" y="580.7" width="4" height="4.1" fill="#e91e63"/>
<rect x="124.0" y="580.7" width="4" height="4.3" fill="#e91e63"/>
<rect x="131.0" y="580.7" width="4" height="5.4" fill="#e91e63"/>
<rect x="139.0" y="580.7" width="4" height="6.5" fill="#e91e63"/>
<rect x="146.0" y="580.7" width="4" height="5.1" fill="#fbc8d2"/>
<rect x="154.0" y="580.7" width="4" height="4.3" fill="#fbc8d2"/>
<rect x="161.0" y="580.7" width="4" height="3.3" fill="#fbc8d2"/>
<rect x="169.0" y="580.7" width="4" height="2.2" fill="#fbc8d2"/>
<rect x="176.0" y="580.7" width="4" height="1.1" fill="#fbc8d2"/>
<rect x="184.0" y="580.7" width="4" height="1.9" fill="#e91e63"/>
<rect x="191.0" y="580.7" width="4" height="3.0" fill="#e91e63"/>
<rect x="199.0" y="580.7" width="4" height="4.1" fill="#e91e63"/>
<rect x="206.0" y="580.7" width="4" height="5.4" fill="#e91e63"/>
<rect x="214.0" y="580.7" width="4" height="7.3" fill="#e91e63"/>
<rect x="221.0" y="580.7" width="4" height="6.5" fill="#fbc8d2"/>
<rect x="229.0" y="580.7" width="4" height="5.9" fill="#fbc8d2"/>
<rect x="236.0" y="580.7" width="4" height="5.4" fill="#fbc8d2"/>
<rect x="244.0" y="580.7" width="4" height="5.1" fill="#fbc8d2"/>
<rect x="251.0" y="580.7" width="4" height="5.9" fill="#e91e63"/>
<rect x="258.0" y="580.7" width="4" height="5.1" fill="#fbc8d2"/>
<rect x="266.0" y="580.7" width="4" height="6.5" fill="#e91e63"/>
<rect x="273.0" y="580.7" width="4" height="5.9" fill="#e91e63"/>
<rect x="281.0" y="580.7" width="4" height="5.1" fill="#fbc8d2"/>
<rect x="288.0" y="580.7" width="4" height="5.9" fill="#e91e63"/>
<rect x="296.0" y="580.7" width="4" height="4.9" fill="#fbc8d2"/>
<rect x="303.0" y="580.7" width="4" height="4.3" fill="#fbc8d2"/>
<rect x="311.0" y="580.7" width="4" height="3.8" fill="#fbc8d2"/>
<rect x="318.0" y="580.7" width="4" height="5.1" fill="#e91e63"/>
<rect x="326.0" y="580.7" width="4" height="5.7" fill="#e91e63"/>
<rect x="333.0" y="580.7" width="4" height="6.5" fill="#e91e63"/>
<rect x="341.0" y="580.7" width="4" height="7.0" fill="#e91e63"/>
<rect x="348.0" y="580.7" width="4" height="7.6" fill="#e91e63"/>
<rect x="356.0" y="580.7" width="4" height="8.1" fill="#e91e63"/>
<rect x="363.0" y="580.7" width="4" height="8.1" fill="#e91e63"/>
<rect x="371.0" y="580.7" width="4" height="7.0" fill="#fbc8d2"/>
<rect x="378.0" y="580.7" width="4" height="6.5" fill="#fbc8d2"/>
<rect x="386.0" y="580.7" width="4" height="5.9" fill="#fbc8d2"/>
<rect x="393.0" y="580.7" width="4" height="4.9" fill="#fbc8d2"/>
<rect x="401.0" y="580.7" width="4" height="3.3" fill="#fbc8d2"/>
<rect x="408.0" y="580.7" width="4" height="1.1" fill="#fbc8d2"/>
<rect x="416.0" y="580.7" width="4" height="0.6" fill="#fbc8d2"/>
<rect x="423.0" y="578.3" width="4" height="2.4" fill="#388e3c"/>
<rect x="431.0" y="578.0" width="4" height="2.7" fill="#388e3c"/>
<rect x="438.0" y="577.2" width="4" height="3.5" fill="#388e3c"/>
<rect x="446.0" y="577.2" width="4" height="3.5" fill="#388e3c"/>
<rect x="453.0" y="577.2" width="4" height="3.5" fill="#388e3c"/>
<rect x="461.0" y="577.2" width="4" height="3.5" fill="#a5d6a7"/>
<rect x="468.0" y="578.3" width="4" height="2.4" fill="#a5d6a7"/>
<rect x="476.0" y="579.6" width="4" height="1.1" fill="#a5d6a7"/>
<rect x="483.0" y="580.7" width="4" height="1.1" fill="#e91e63"/>
<rect x="491.0" y="580.7" width="4" height="0.8" fill="#fbc8d2"/>
<rect x="498.0" y="580.7" width="4" height="0.6" fill="#fbc8d2"/>
<rect x="506.0" y="580.7" width="4" height="0.6" fill="#fbc8d2"/>
<rect x="513.0" y="579.1" width="4" height="1.6" fill="#388e3c"/>
<rect x="521.0" y="577.2" width="4" height="3.5" fill="#388e3c"/>
<rect x="528.0" y="577.2" width="4" height="3.5" fill="#388e3c"/>
<rect x="536.0" y="576.1" width="4" height="4.6" fill="#388e3c"/>
<rect x="543.0" y="577.2" width="4" height="3.5" fill="#a5d6a7"/>
<rect x="551.0" y="577.2" width="4" height="3.5" fill="#a5d6a7"/>
<rect x="558.0" y="578.0" width="4" height="2.7" fill="#a5d6a7"/>
<rect x="566.0" y="577.2" width="4" height="3.5" fill="#388e3c"/>
<rect x="573.0" y="577.2" width="4" height="3.5" fill="#388e3c"/>
<rect x="581.0" y="577.2" width="4" height="3.5" fill="#a5d6a7"/>
<rect x="588.0" y="577.2" width="4" height="3.5" fill="#a5d6a7"/>
<rect x="596.0" y="577.2" width="4" height="3.5" fill="#388e3c"/>
<rect x="603.0" y="578.0" width="4" height="2.7" fill="#a5d6a7"/>
<rect x="611.0" y="578.0" width="4" height="2.7" fill="#388e3c"/>
<rect x="618.0" y="578.0" width="4" height="2.7" fill="#388e3c"/>
<rect x="626.0" y="577.2" width="4" height="3.5" fill="#388e3c"/>
<rect x="633.0" y="576.9" width="4" height="3.8" fill="#388e3c"/>
<rect x="641.0" y="576.1" width="4" height="4.6" fill="#388e3c"/>
<rect x="648.0" y="574.3" width="4" height="6.4" fill="#388e3c"/>
<rect x="656.0" y="574.3" width="4" height="6.4" fill="#388e3c"/>
<rect x="663.0" y="573.2" width="4" height="7.5" fill="#388e3c"/>
<rect x="671.0" y="572.4" width="4" height="8.3" fill="#388e3c"/>
<rect x="678.0" y="571.0" width="4" height="9.7" fill="#388e3c"/>
<rect x="686.0" y="571.0" width="4" height="9.7" fill="#a5d6a7"/>
<rect x="693.0" y="571.0" width="4" height="9.7" fill="#388e3c"/>
<rect x="701.0" y="572.1" width="4" height="8.6" fill="#a5d6a7"/>
<rect x="708.0" y="573.2" width="4" height="7.5" fill="#a5d6a7"/>
<rect x="716.0" y="575.1" width="4" height="5.6" fill="#a5d6a7"/>
<rect x="723.0" y="577.2" width="4" height="3.5" fill="#a5d6a7"/>
<rect x="731.0" y="578.6" width="4" height="2.1" fill="#a5d6a7"/>
<rect x="738.0" y="579.6" width="4" height="1.1" fill="#a5d6a7"/>
<rect x="746.0" y="579.9" width="4" height="0.8" fill="#a5d6a7"/>
<rect x="753.0" y="580.2" width="4" height="0.6" fill="#a5d6a7"/>
<rect x="760.0" y="580.2" width="4" height="0.6" fill="#a5d6a7"/>
<rect x="768.0" y="579.1" width="4" height="1.6" fill="#388e3c"/>
<rect x="775.0" y="578.3" width="4" height="2.4" fill="#388e3c"/>
<rect x="783.0" y="576.4" width="4" height="4.3" fill="#388e3c"/>
<rect x="790.0" y="574.5" width="4" height="6.2" fill="#388e3c"/>
<rect x="798.0" y="573.7" width="4" height="7.0" fill="#388e3c"/>
<rect x="805.0" y="572.9" width="4" height="7.8" fill="#388e3c"/>
<rect x="813.0" y="571.8" width="4" height="8.9" fill="#388e3c"/>
<rect x="820.0" y="570.5" width="4" height="10.2" fill="#388e3c"/>
<rect x="828.0" y="571.0" width="4" height="9.7" fill="#a5d6a7"/>
<rect x="835.0" y="571.0" width="4" height="9.7" fill="#388e3c"/>
<rect x="843.0" y="569.9" width="4" height="10.8" fill="#388e3c"/>
<polyline points="10.8,570.2 26.9,562.9 43.1,556.2 57.9,549.5 64.7,548.7 78.1,550.0 91.6,551.6 107.8,556.2 121.2,560.2 132.0,563.5 142.8,567.5 150.9,567.8 164.3,567.5 177.8,567.0 188.6,569.7 202.0,573.7 215.5,578.3 229.0,580.5 242.5,582.3 253.2,584.5 266.7,587.7 277.5,591.2 289.6,593.9 296.3,593.9 309.8,595.8 323.3,598.5 336.7,602.8 350.2,607.4 363.7,611.4 377.2,613.6 387.9,614.9 396.0,615.5 404.1,614.1 412.2,612.0 420.3,610.6 425.0,609.3 438.5,607.4 451.9,605.5 465.4,606.0 478.9,608.2 492.3,609.5 505.8,608.7 516.6,606.9 528.7,603.9 540.8,602.5 554.3,602.5 565.1,602.0 575.9,600.7 586.6,600.1 600.1,599.6 613.6,598.8 627.0,597.4 637.8,594.7 648.6,591.2 656.7,589.3 667.5,585.8 678.2,582.3 689.0,579.1 699.8,575.9 710.6,574.5 721.3,575.6 732.1,577.8 742.9,579.1 753.7,580.5 764.4,580.5 775.2,578.6 786.0,575.6 796.8,571.6 807.5,567.8 815.6,564.8 822.4,561.6 829.1,560.2 837.2,557.6 845.5,554.3" fill="none" stroke="#2962ff" stroke-width="1.9" stroke-linejoin="round" stroke-linecap="round" />
<polyline points="10.8,576.4 26.9,571.6 43.1,566.2 57.9,560.2 70.0,556.2 86.2,554.3 97.0,554.3 107.8,555.4 121.2,557.6 134.7,559.7 150.9,562.4 164.3,563.7 177.8,565.1 188.6,567.0 202.0,569.7 215.5,572.9 229.0,575.6 242.5,578.3 255.9,581.3 269.4,584.0 282.9,586.6 296.3,589.1 309.8,591.2 323.3,593.4 336.7,596.6 350.2,600.1 363.7,603.3 377.2,606.6 390.6,608.7 404.1,610.6 420.3,611.2 425.0,610.9 438.5,609.5 451.9,608.2 465.4,607.7 478.9,607.9 492.3,608.2 505.8,608.2 519.3,607.4 532.8,606.0 546.2,604.7 559.7,603.9 573.2,602.5 586.6,601.7 600.1,600.9 613.6,600.1 627.0,599.3 640.5,597.4 654.0,594.7 667.5,591.2 680.9,587.7 694.4,584.5 707.9,581.3 721.3,579.4 734.8,578.6 748.3,578.6 761.7,579.1 775.2,579.1 788.7,577.8 802.2,575.9 815.6,572.4 829.1,568.3 837.2,565.9 845.5,563.2" fill="none" stroke="#f23645" stroke-width="1.9" stroke-linejoin="round" stroke-linecap="round" />
</g>
<g clip-path="url(#crsi)">
<rect x="10" y="636.6" width="1500" height="33.7" fill="rgba(126,87,194,0.1)"/>
<line x1="10" y1="636.6" x2="1510" y2="636.6" stroke="#787b86" stroke-width="1" stroke-dasharray="5.6,5.4"/>
<line x1="10" y1="653.6" x2="1510" y2="653.6" stroke="#787b86" stroke-width="1" stroke-dasharray="5.6,5.4"/>
<line x1="10" y1="670.3" x2="1510" y2="670.3" stroke="#787b86" stroke-width="1" stroke-dasharray="5.6,5.4"/>
<polyline points="10.8,644.4 26.9,640.9 43.1,635.5 57.9,632.0 70.0,635.5 86.2,637.4 102.4,641.7 113.1,644.9 126.6,648.4 140.1,650.9 150.9,649.8 164.3,647.6 177.8,647.1 188.6,650.3 204.7,654.4 218.2,657.1 231.7,657.9 245.2,658.9 258.6,661.1 272.1,663.8 285.6,666.0 299.0,664.3 312.5,666.5 326.0,668.6 339.4,671.9 352.9,674.6 366.4,676.7 379.8,676.2 393.3,677.3 404.1,675.1 417.6,672.7 425.0,671.1 438.5,669.2 451.9,668.4 465.4,670.0 478.9,672.7 489.7,673.8 500.4,672.4 508.5,672.4 519.3,670.0 530.1,667.8 540.8,667.0 551.6,668.1 562.4,668.6 573.2,667.8 586.6,667.8 600.1,668.4 613.6,667.8 627.0,667.0 640.5,664.3 651.3,660.6 658.0,659.2 667.5,655.7 678.2,652.2 689.0,649.5 697.1,646.8 705.2,645.7 713.3,645.7 721.3,648.2 732.1,651.7 742.9,653.6 753.7,654.9 764.4,654.4 775.2,651.7 786.0,648.2 796.8,644.9 807.5,641.4 815.6,639.0 822.4,636.9 831.8,637.4 839.9,636.0 845.5,635.0" fill="none" stroke="#0496ff" stroke-width="1.8" stroke-linejoin="round" stroke-linecap="round" />
<polyline points="10.8,639.6 26.9,634.2 43.1,630.1 57.9,628.0 64.7,634.2 78.1,637.4 91.6,639.0 102.4,647.6 110.5,653.0 118.5,648.2 125.3,647.1 133.4,651.7 140.1,653.8 150.9,648.2 158.9,646.8 169.7,647.6 177.8,644.4 185.9,650.3 199.4,657.1 207.4,657.6 215.5,660.6 222.3,657.1 234.4,658.4 245.2,659.8 253.2,661.6 264.0,663.8 274.8,667.8 282.9,666.5 289.6,669.2 297.7,662.5 309.8,666.5 323.3,670.5 336.7,674.6 350.2,677.8 363.7,680.5 373.1,675.4 382.5,676.7 394.7,678.1 402.7,670.5 409.5,668.6 417.6,670.5 424.3,664.3 425.0,664.3 433.1,666.5 441.2,667.8 449.2,667.8 460.0,670.5 470.8,674.0 484.8,677.8 492.3,673.2 499.1,669.2 507.2,671.3 516.6,666.0 523.3,663.3 532.8,664.3 540.8,666.5 551.6,669.7 559.7,670.0 570.5,666.5 575.9,666.0 586.6,668.6 592.0,668.6 597.4,667.0 605.5,670.8 613.6,666.5 619.0,667.0 627.0,666.0 632.4,663.8 640.5,658.4 649.9,651.7 656.7,654.4 664.8,647.6 672.8,644.9 679.6,644.4 687.7,644.4 695.2,639.6 702.5,643.6 710.6,646.3 718.6,651.7 725.4,656.3 733.5,659.8 740.2,655.7 748.3,658.9 756.4,656.3 763.1,653.8 769.8,649.8 777.9,644.9 786.0,641.7 792.7,639.0 799.5,636.9 807.5,634.2 814.3,633.4 821.6,629.6 829.1,636.3 837.2,632.3 845.5,630.7" fill="none" stroke="#673ab7" stroke-width="2.8" stroke-linejoin="round" stroke-linecap="round" />
</g>
<path d="M10,540.4H1586M10,623.4H1586" stroke="#e0e3eb" stroke-width="1" fill="none"/>
<rect x="10" y="10" width="1576" height="703.5" fill="none" stroke="#e0e3eb" stroke-width="1"/>
<g clip-path="url(#cax1)">
<text x="1518.7" y="16.2" font-family='"Liberation Sans", sans-serif' font-size="12.4" fill="#131722" letter-spacing="0.2">38,000</text>
<text x="1518.7" y="71.0" font-family='"Liberation Sans", sans-serif' font-size="12.4" fill="#131722" letter-spacing="0.2">34,000</text>
<text x="1518.7" y="132.7" font-family='"Liberation Sans", sans-serif' font-size="12.4" fill="#131722" letter-spacing="0.2">30,000</text>
<text x="1518.7" y="166.7" font-family='"Liberation Sans", sans-serif' font-size="12.4" fill="#131722" letter-spacing="0.2">28,000</text>
<text x="1518.7" y="242.7" font-family='"Liberation Sans", sans-serif' font-size="12.4" fill="#131722" letter-spacing="0.2">24,000</text>
<text x="1518.7" y="395.5" font-family='"Liberation Sans", sans-serif' font-size="12.4" fill="#131722" letter-spacing="0.2">17,600</text>
<text x="1518.7" y="430.3" font-family='"Liberation Sans", sans-serif' font-size="12.4" fill="#131722" letter-spacing="0.2">16,400</text>
<text x="1518.7" y="526.2" font-family='"Liberation Sans", sans-serif' font-size="12.4" fill="#131722" letter-spacing="0.2">13,500</text>
<path d="M1510,69H1561.3Q1563.3,69 1563.3,71V83.6Q1563.3,85.6 1561.3,85.6H1510Z" fill="#ffeb3b"/>
<text x="1518.7" y="81.2" font-family='"Liberation Sans", sans-serif' font-size="12.4" fill="#131722" letter-spacing="0.2">33,350</text>
<path d="M1510,172.2H1561Q1563,172.2 1563,174.2V187.1Q1563,189.1 1561,189.1H1510Z" fill="#2196f3"/>
<text x="1518.7" y="184.5" font-family='"Liberation Sans", sans-serif' font-size="12.4" fill="#fff" letter-spacing="0.2">25,335</text>
<path d="M1510,189.1H1561Q1563,189.1 1563,191.1V204.0Q1563,206.0 1561,206.0H1510Z" fill="#089981"/>
<text x="1518.7" y="201.5" font-family='"Liberation Sans", sans-serif' font-size="12.4" fill="#fff" letter-spacing="0.2">25,270</text>
<path d="M1510,206.0H1561Q1563,206.0 1563,208.0V220.9Q1563,222.9 1561,222.9H1510Z" fill="#4caf50"/>
<text x="1518.7" y="218.3" font-family='"Liberation Sans", sans-serif' font-size="12.4" fill="#fff" letter-spacing="0.2">25,270</text>
<path d="M1510,248.2H1558.7Q1560.7,248.2 1560.7,250.2V263.1Q1560.7,265.1 1558.7,265.1H1510Z" fill="#f06292"/>
<text x="1518.7" y="260.5" font-family='"Liberation Sans", sans-serif' font-size="12.4" fill="#fff" letter-spacing="0.2">23,170</text>
<path d="M1510,265.1H1561.3Q1563.3,265.1 1563.3,267.1V280.0Q1563.3,282.0 1561.3,282.0H1510Z" fill="#2962ff"/>
<text x="1518.7" y="277.4" font-family='"Liberation Sans", sans-serif' font-size="12.4" fill="#fff" letter-spacing="0.2">22,560</text>
<path d="M1510,282.0H1559.7Q1561.7,282.0 1561.7,284.0V296.9Q1561.7,298.9 1559.7,298.9H1510Z" fill="#ff9800"/>
<text x="1518.7" y="294.3" font-family='"Liberation Sans", sans-serif' font-size="12.4" fill="#131722" letter-spacing="0.2">21,890</text>
<path d="M1510,298.9H1558.7Q1560.7,298.9 1560.7,300.9V313.8Q1560.7,315.8 1558.7,315.8H1510Z" fill="#f23645"/>
<text x="1518.7" y="311.2" font-family='"Liberation Sans", sans-serif' font-size="12.4" fill="#fff" letter-spacing="0.2">21,220</text>
<path d="M1510,315.8H1561.3Q1563.3,315.8 1563.3,317.8V330.7Q1563.3,332.7 1561.3,332.7H1510Z" fill="#f06292"/>
<text x="1518.7" y="328.1" font-family='"Liberation Sans", sans-serif' font-size="12.4" fill="#fff" letter-spacing="0.2">20,930</text>
<path d="M1510,332.7H1561.3Q1563.3,332.7 1563.3,334.7V347.6Q1563.3,349.6 1561.3,349.6H1510Z" fill="#2962ff"/>
<text x="1518.7" y="345.0" font-family='"Liberation Sans", sans-serif' font-size="12.4" fill="#fff" letter-spacing="0.2">20,490</text>
<path d="M1510,349.6H1560.7Q1562.7,349.6 1562.7,351.6V364.5Q1562.7,366.5 1560.7,366.5H1510Z" fill="#9c27b0"/>
<text x="1518.7" y="361.9" font-family='"Liberation Sans", sans-serif' font-size="12.4" fill="#fff" letter-spacing="0.2">20,425</text>
<path d="M1510,366.5H1560.7Q1562.7,366.5 1562.7,368.5V381.4Q1562.7,383.4 1560.7,383.4H1510Z" fill="#00bcd4"/>
<text x="1518.7" y="378.8" font-family='"Liberation Sans", sans-serif' font-size="12.4" fill="#131722" letter-spacing="0.2">20,232</text>
<path d="M1510,395.6H1556Q1558,395.6 1558,397.6V410.5Q1558,412.5 1556,412.5H1510Z" fill="#f06292"/>
<text x="1518.7" y="407.9" font-family='"Liberation Sans", sans-serif' font-size="12.4" fill="#fff" letter-spacing="0.2">17,170</text>
<path d="M1510,441.7H1559.7Q1561.7,441.7 1561.7,443.7V456.6Q1561.7,458.6 1559.7,458.6H1510Z" fill="#2196f3"/>
<text x="1518.7" y="454.0" font-family='"Liberation Sans", sans-serif' font-size="12.4" fill="#fff" letter-spacing="0.2">15,644</text>
<path d="M1510,458.6H1559.7Q1561.7,458.6 1561.7,460.6V473.5Q1561.7,475.5 1559.7,475.5H1510Z" fill="#f06292"/>
<text x="1518.7" y="470.9" font-family='"Liberation Sans", sans-serif' font-size="12.4" fill="#fff" letter-spacing="0.2">15,580</text>
<path d="M1510,484.0H1559.7Q1561.7,484.0 1561.7,486.0V498.9Q1561.7,500.9 1559.7,500.9H1510Z" fill="#f06292"/>
<text x="1518.7" y="496.3" font-family='"Liberation Sans", sans-serif' font-size="12.4" fill="#fff" letter-spacing="0.2">14,360</text>
<path d="M1510,507.3H1578.7Q1580.7,507.3 1580.7,509.3V522.2Q1580.7,524.2 1578.7,524.2H1510Z" fill="#22a69a"/>
<text x="1518.7" y="519.6" font-family='"Liberation Sans", sans-serif' font-size="12.4" fill="#fff" letter-spacing="0.2">155.276<tspan dx="1.6">M</tspan></text>
</g>
<g clip-path="url(#cax2)">
<text x="1518.7" y="550.6" font-family='"Liberation Sans", sans-serif' font-size="12.4" fill="#131722" letter-spacing="0.2">2,000</text>
<text x="1518.7" y="584.4" font-family='"Liberation Sans", sans-serif' font-size="12.4" fill="#131722" letter-spacing="0.2">0</text>
<text x="1518.7" y="615.4" font-family='"Liberation Sans", sans-serif' font-size="12.4" fill="#131722" letter-spacing="0.2">−2,000</text>
<path d="M1510,527.9H1552Q1554,527.9 1554,529.9V542.6Q1554,544.6 1552,544.6H1510Z" fill="#2962ff"/>
<text x="1518.7" y="540.1" font-family='"Liberation Sans", sans-serif' font-size="12.4" fill="#ffffff" letter-spacing="0.2">1,562</text>
<path d="M1510,545.2H1543.7Q1545.7,545.2 1545.7,547.2V560.1Q1545.7,562.1 1543.7,562.1H1510Z" fill="#f23645"/>
<text x="1518.7" y="557.6" font-family='"Liberation Sans", sans-serif' font-size="12.4" fill="#ffffff" letter-spacing="0.2">987</text>
<path d="M1510,562.1H1543Q1545,562.1 1545,564.1V576.8Q1545,578.8 1543,578.8H1510Z" fill="#388e3c"/>
<text x="1518.7" y="574.4" font-family='"Liberation Sans", sans-serif' font-size="12.4" fill="#ffffff" letter-spacing="0.2">575</text>
</g>
<g clip-path="url(#cax3)">
<text x="1518.7" y="632.4" font-family='"Liberation Sans", sans-serif' font-size="12.4" fill="#131722" letter-spacing="0.2">80.00</text>
<text x="1518.7" y="666.1" font-family='"Liberation Sans", sans-serif' font-size="12.4" fill="#131722" letter-spacing="0.2">40.00</text>
<path d="M1510,625.0H1553.7Q1555.7,625.0 1555.7,627.0V639.9Q1555.7,641.9 1553.7,641.9H1510Z" fill="#673ab7"/>
<text x="1518.7" y="637.4" font-family='"Liberation Sans", sans-serif' font-size="12.4" fill="#ffffff" letter-spacing="0.2">75.88</text>
<path d="M1510,641.9H1552Q1554,641.9 1554,643.9V656.6Q1554,658.6 1552,658.6H1510Z" fill="#0496ff"/>
<text x="1518.7" y="654.1" font-family='"Liberation Sans", sans-serif' font-size="12.4" fill="#ffffff" letter-spacing="0.2">71.60</text>
</g>
<text x="96.6" y="705.2" text-anchor="middle" font-family='"Liberation Sans", sans-serif' font-size="12.4" font-weight="normal" fill="#131722">May</text>
<text x="253.5" y="705.2" text-anchor="middle" font-family='"Liberation Sans", sans-serif' font-size="12.4" font-weight="normal" fill="#131722">Jun</text>
<text x="335.6" y="705.2" text-anchor="middle" font-family='"Liberation Sans", sans-serif' font-size="12.4" font-weight="normal" fill="#131722">Jul</text>
<text x="485.3" y="705.2" text-anchor="middle" font-family='"Liberation Sans", sans-serif' font-size="12.4" font-weight="normal" fill="#131722">Aug</text>
<text x="643.4" y="705.2" text-anchor="middle" font-family='"Liberation Sans", sans-serif' font-size="12.4" font-weight="normal" fill="#131722">Sep</text>
<text x="792.3" y="705.2" text-anchor="middle" font-family='"Liberation Sans", sans-serif' font-size="12.4" font-weight="normal" fill="#131722">Oct</text>
<text x="950.5" y="705.2" text-anchor="middle" font-family='"Liberation Sans", sans-serif' font-size="12.4" font-weight="normal" fill="#131722">Nov</text>
<text x="1032.5" y="705.2" text-anchor="middle" font-family='"Liberation Sans", sans-serif' font-size="12.4" font-weight="normal" fill="#131722">16</text>
<text x="1115.6" y="705.2" text-anchor="middle" font-family='"Liberation Sans", sans-serif' font-size="12.4" font-weight="normal" fill="#131722">Dec</text>
<text x="1197.4" y="705.2" text-anchor="middle" font-family='"Liberation Sans", sans-serif' font-size="12.4" font-weight="normal" fill="#131722">16</text>
<text x="1287.3" y="705.2" text-anchor="middle" font-family='"Liberation Sans", sans-serif' font-size="12.4" font-weight="bold" fill="#131722">2026</text>
<text x="1444.5" y="705.2" text-anchor="middle" font-family='"Liberation Sans", sans-serif' font-size="12.4" font-weight="normal" fill="#131722">Feb</text>
<text x="18.6" y="30.8" font-family='"Liberation Sans", sans-serif' font-size="12.4" fill="#131722" xml:space="preserve">1</text>
<text x="88" y="30.8" font-family='"Liberation Sans", sans-serif' font-size="12.4" fill="#131722" xml:space="preserve">D</text>
<text x="105" y="30.8" font-family='"Liberation Sans", sans-serif' font-size="12.4" fill="#131722" xml:space="preserve">O</text>
<text x="114" y="30.8" font-family='"Liberation Sans", sans-serif' font-size="12.4" fill="#089981" xml:space="preserve">25,020</text>
<text x="161" y="30.8" font-family='"Liberation Sans", sans-serif' font-size="12.4" fill="#131722" xml:space="preserve">H</text>
<text x="170" y="30.8" font-family='"Liberation Sans", sans-serif' font-size="12.4" fill="#089981" xml:space="preserve">25,270</text>
<text x="215.8" y="30.8" font-family='"Liberation Sans", sans-serif' font-size="12.4" fill="#131722" xml:space="preserve">L</text>
<text x="223" y="30.8" font-family='"Liberation Sans", sans-serif' font-size="12.4" fill="#089981" xml:space="preserve">24,700</text>
<text x="269" y="30.8" font-family='"Liberation Sans", sans-serif' font-size="12.4" fill="#131722" xml:space="preserve">C</text>
<text x="278" y="30.8" font-family='"Liberation Sans", sans-serif' font-size="12.4" fill="#089981" xml:space="preserve">25,270</text>
<text x="323" y="30.8" font-family='"Liberation Sans", sans-serif' font-size="12.4" fill="#089981" xml:space="preserve">+700 (+2.85%)</text>
<text x="18.6" y="48.7" font-family='"Liberation Sans", sans-serif' font-size="12.4" fill="#131722" xml:space="preserve">Volume</text>
<text x="68.8" y="48.7" font-family='"Liberation Sans", sans-serif' font-size="12.4" fill="#26a69a" xml:space="preserve">155.276<tspan dx="1.6">M</tspan></text>
<text x="18.6" y="63.6" font-family='"Liberation Sans", sans-serif' font-size="12.4" fill="#131722" xml:space="preserve">BB (20, 2)</text>
<text x="82" y="63.6" font-family='"Liberation Sans", sans-serif' font-size="12.4" fill="#2962ff" xml:space="preserve">20,490</text>
<text x="130" y="63.6" font-family='"Liberation Sans", sans-serif' font-size="12.4" fill="#2196f3" xml:space="preserve">25,335</text>
<text x="176" y="63.6" font-family='"Liberation Sans", sans-serif' font-size="12.4" fill="#2196f3" xml:space="preserve">15,644</text>
<text x="18.6" y="81.5" font-family='"Liberation Sans", sans-serif' font-size="12.4" fill="#131722" xml:space="preserve">Ichimoku (9, 26, 52, 26)</text>
<text x="183" y="81.5" font-family='"Liberation Sans", sans-serif' font-size="12.4" fill="#2962ff" xml:space="preserve">22,560</text>
<text x="229" y="81.5" font-family='"Liberation Sans", sans-serif' font-size="12.4" fill="#f23645" xml:space="preserve">21,220</text>
<text x="273.7" y="81.5" font-family='"Liberation Sans", sans-serif' font-size="12.4" fill="#43a047" xml:space="preserve">25,270</text>
<text x="319.7" y="81.5" font-family='"Liberation Sans", sans-serif' font-size="12.4" fill="#ff9800" xml:space="preserve">21,890</text>
<text x="365" y="81.5" font-family='"Liberation Sans", sans-serif' font-size="12.4" fill="#9c27b0" xml:space="preserve">20,425</text>
<text x="18.3" y="561.5" font-family='"Liberation Sans", sans-serif' font-size="12.4" fill="#131722" xml:space="preserve" textLength="132" lengthAdjust="spacingAndGlyphs">MACD (12, 26, close, 9)</text>
<text x="159" y="561.5" font-family='"Liberation Sans", sans-serif' font-size="12.4" fill="#388e3c" xml:space="preserve">575</text>
<text x="187.2" y="561.5" font-family='"Liberation Sans", sans-serif' font-size="12.4" fill="#2962ff" xml:space="preserve">1,562</text>
<text x="224.4" y="561.5" font-family='"Liberation Sans", sans-serif' font-size="12.4" fill="#f23645" xml:space="preserve">987</text>
<text x="18.3" y="644.1" font-family='"Liberation Sans", sans-serif' font-size="12.4" fill="#131722" xml:space="preserve" textLength="88.9" lengthAdjust="spacingAndGlyphs">RSI (14, EMA, 7)</text>
<text x="115.3" y="644.3" font-family='"Liberation Sans", sans-serif' font-size="12.4" fill="#673ab7" xml:space="preserve">75.88</text>
<text x="154.1" y="644.3" font-family='"Liberation Sans", sans-serif' font-size="12.4" fill="#0496ff" xml:space="preserve">71.60</text>
<path d="M43.4,31.3 42.7,31.9 43.4,32.6 44.0,31.8ZM45.1,31.1 44.4,31.8 45.2,32.4 45.8,31.8ZM73.4,27.9 73.0,27.1 72.5,26.7 72.0,26.6 71.1,27.0 70.6,27.9 70.1,29.0 69.6,29.4 69.1,29.6 66.4,29.4 66.1,29.8 66.1,30.2 67.0,30.9 67.9,31.3 68.1,31.6 67.2,32.1 65.8,32.5 63.6,32.5 63.0,32.2 62.6,31.8 62.3,31.3 62.4,29.9 62.0,29.8 61.8,30.8 61.8,31.7 62.0,32.3 62.6,33.0 63.5,33.4 65.2,33.4 66.4,33.1 67.7,32.5 68.5,31.8 68.5,31.1 68.2,30.8 67.7,30.6 67.5,30.4 67.6,30.3 69.3,30.4 69.9,30.1 70.3,29.7 71.1,30.1 71.8,30.3 73.1,30.4 73.6,29.6 73.6,28.7ZM67.3,30.3 67.4,30.2 67.6,30.3 67.5,30.4ZM71.8,27.5 72.1,27.5 72.5,28.0 72.8,29.0 72.7,29.6 71.6,29.4 70.7,29.0 71.1,28.2ZM49.2,26.6 48.7,26.9 48.6,27.5 49.8,29.9 49.3,30.9 48.5,31.7 47.8,31.9 46.2,31.8 46.1,32.1 47.2,32.7 48.4,32.6 49.4,31.8 49.8,31.2 50.1,30.2 50.1,29.0ZM45.3,26.3 45.1,26.3 44.6,26.8 44.6,27.4 45.0,28.3 45.2,29.2 44.5,29.4 43.2,29.6 42.1,29.6 41.4,29.3 41.4,29.0 40.7,26.9 40.7,26.7 40.6,26.6 40.4,26.7 40.0,27.1 40.0,27.5 41.1,29.9 40.8,30.6 39.9,31.7 39.1,31.9 37.6,31.8 37.5,32.1 38.5,32.7 39.5,32.7 40.3,32.3 40.8,31.8 41.2,31.0 41.4,30.2 42.0,30.4 43.1,30.4 44.6,30.1 45.3,29.8 45.7,29.0 45.7,28.0ZM83.9,28.3 83.4,27.2 82.5,26.4 80.8,25.5 80.5,26.2 79.8,26.8 79.4,27.9 79.5,28.6 80.1,29.4 79.5,29.6 78.3,29.5 78.0,29.3 78.0,29.0 77.1,26.6 76.6,26.9 76.5,27.5 77.7,29.9 77.4,30.6 76.4,31.7 75.7,31.9 74.1,31.8 74.0,32.1 75.1,32.7 76.3,32.6 77.3,31.8 77.8,31.0 78.0,30.2 78.6,30.4 79.5,30.4 81.1,29.9 81.8,30.3 83.5,30.6 84.0,29.3ZM82.1,26.9 82.6,27.4 83.3,28.6 83.5,29.2 83.4,29.8 82.2,29.6 81.6,29.3 82.0,28.8 82.2,28.1 82.2,27.6 82.0,27.1ZM80.7,26.8 81.1,26.8 81.5,27.3 81.6,27.6 81.5,28.4 81.0,29.1 79.8,28.1 80.1,27.3ZM40.0,24.3 39.2,25.1 40.0,25.8 40.7,25.1ZM86.2,22.8 85.9,22.9 85.6,23.3 85.7,25.2 85.8,25.3 85.8,27.0 85.9,27.1 85.9,30.4 86.3,30.3 86.3,29.2 86.4,29.1 86.3,24.3 86.6,24.1ZM51.6,23.4 51.6,23.8 51.7,23.9 52.1,29.4 52.3,29.9 53.3,30.4 54.6,30.4 55.8,30.2 56.7,29.8 57.4,29.0 57.4,28.2 57.1,27.6 56.5,26.9 55.8,26.4 54.0,25.6 56.4,24.4 57.8,24.0 58.2,23.5 58.1,23.0 57.8,23.0 53.9,24.8 53.6,25.6 53.6,26.2 53.9,26.6 54.2,26.7 54.6,26.6 55.5,27.0 56.7,28.2 57.0,28.9 56.6,29.2 55.8,29.4 54.5,29.6 53.4,29.6 52.5,29.2 52.4,23.5 52.3,22.8ZM30.4,23.4 30.4,23.8 30.5,23.9 30.8,29.4 31.0,29.9 31.6,30.3 32.8,30.4 33.3,30.1 33.7,29.7 34.5,30.1 35.3,30.3 36.5,30.4 37.0,29.6 37.0,28.7 36.8,27.9 36.4,27.1 35.8,26.6 35.2,26.7 34.6,27.0 34.0,27.9 33.5,29.0 33.1,29.4 32.6,29.6 32.1,29.6 31.2,29.2 31.1,23.5 31.0,22.8ZM35.3,27.5 35.6,27.5 35.9,28.0 36.2,29.0 36.1,29.6 35.1,29.4 34.1,29.0 34.5,28.2Z" fill="#131722" fill-rule="evenodd"/>
<path d="M10,10H400V61.7H272V101.7H161.7V141.7H104.3V176.5H10Z" fill="rgba(255,255,255,0.78)"/>
<path d="M277.7,43.7 276.5,44.9 277.3,45.7 277.8,46.0 278.7,44.9 278.7,44.6ZM143.9,43.7 142.7,44.9 143.5,45.7 144.0,46.0 144.9,44.9 144.9,44.6ZM70.6,43.7 69.4,45.1 70.2,46.0 70.7,46.3 71.9,45.0ZM280.2,43.4 279.2,44.6 280.3,45.7 281.3,44.4ZM146.4,43.4 145.4,44.6 146.5,45.7 147.5,44.4ZM325.6,37.1 325.1,36.2 324.4,35.5 324.0,35.3 323.2,35.3 322.2,36.0 321.3,37.5 320.7,38.8 320.1,39.5 319.2,40.0 316.4,40.0 316.2,39.9 314.7,39.8 314.0,41.2 314.1,41.8 317.2,43.8 316.5,44.3 314.3,44.9 312.6,45.0 312.5,45.1 310.8,45.1 309.5,44.8 308.6,43.9 308.3,43.2 308.2,41.7 308.4,40.7 307.7,40.6 307.4,42.3 307.4,44.0 307.7,45.2 308.6,46.3 309.5,46.8 310.7,47.1 312.8,46.9 315.3,46.2 317.0,45.2 317.8,44.4 318.0,44.1 317.8,42.9 317.5,42.6 316.1,41.8 316.2,41.7 317.5,41.8 317.6,42.0 319.2,42.0 320.1,41.6 320.8,41.0 321.7,41.5 322.8,41.8 324.1,42.0 324.2,42.1 325.2,42.1 325.8,41.3 326.1,40.5 326.1,39.0ZM322.7,37.5 323.2,37.2 323.5,37.2 324.1,37.8 324.7,39.4 324.7,40.1 324.6,40.3 322.6,39.9 321.6,39.3 322.2,38.2ZM202.9,35.3 202.0,35.3 201.6,35.5 200.5,36.7 200.0,38.3 200.0,38.9 199.9,39.0 200.0,40.5 200.3,41.2 201.2,42.0 201.7,42.1 203.0,42.0 204.0,41.5 204.4,41.0 204.6,41.1 204.4,41.8 203.4,43.2 202.2,43.9 201.2,44.1 200.0,44.1 199.9,44.0 198.6,43.9 198.4,44.5 199.5,45.4 201.0,46.0 202.0,45.9 203.4,45.1 204.3,44.1 204.8,43.4 205.3,41.7 205.4,40.0 205.1,38.2 204.1,36.1ZM200.7,38.5 200.9,38.1 201.6,37.3 202.4,37.2 202.9,37.5 203.7,38.3 204.4,39.8 204.1,40.0 203.2,40.3 201.6,40.1 200.8,39.5ZM194.1,35.4 192.8,35.3 192.1,35.6 191.3,36.6 190.6,38.5 190.6,40.4 190.9,41.0 191.3,41.6 192.3,42.1 193.8,42.0 194.5,41.6 195.2,41.0 195.4,41.3 195.5,42.9 194.4,43.9 192.7,44.8 191.1,45.1 189.5,45.0 188.9,44.8 188.1,43.9 187.8,42.8 187.8,41.7 188.0,40.7 187.3,40.6 187.0,42.3 187.0,44.1 187.3,45.4 188.4,46.6 189.7,47.1 191.0,47.1 193.0,46.5 194.7,45.4 195.5,44.5 196.1,43.5 196.6,41.8 196.6,40.4 196.2,38.4 195.3,36.5ZM191.7,37.9 192.1,37.5 192.7,37.2 193.1,37.2 193.6,37.5 194.4,38.3 195.0,39.8 194.7,40.0 193.8,40.3 192.8,40.3 192.0,40.0 191.4,39.4 191.4,38.4ZM364.5,35.0 363.6,35.0 363.1,35.3 362.2,36.2 361.4,37.9 362.1,38.2 362.9,37.2 363.2,37.0 363.8,36.8 364.1,37.0 364.9,37.8 365.9,39.2 365.7,39.3 362.9,39.5 361.3,40.0 360.6,41.8 360.7,44.4 360.8,44.5 360.8,45.6 361.0,45.7 361.0,48.2 361.1,48.3 362.6,47.4 361.5,41.8 362.0,41.6 363.7,41.2 366.9,41.1 367.2,40.9 367.9,38.9 366.8,37.8 365.3,35.6ZM286.8,35.0 285.9,35.7 285.5,36.5 285.5,37.1 286.2,38.8 287.5,41.0 287.0,42.2 286.0,43.4 285.2,43.9 284.3,44.1 283.0,44.1 281.9,43.9 281.8,44.6 282.3,45.1 283.9,46.0 285.4,45.7 286.7,44.9 287.5,43.8 288.0,42.3 288.1,40.9 288.3,40.7 288.1,39.4ZM161.6,44.6 162.5,45.4 163.8,46.0 165.3,45.7 166.5,44.9 167.1,44.1 167.7,43.1 167.9,41.8 168.1,41.6 168.9,42.0 169.9,42.0 171.3,41.5 172.8,42.1 174.3,42.1 175.5,41.7 175.9,41.1 176.2,41.3 177.7,41.8 178.8,42.0 178.9,42.1 179.9,42.1 180.4,41.1 180.7,39.6 180.6,38.4 180.1,35.9 180.1,35.3 179.9,35.0 179.2,35.6 178.6,36.5 178.7,37.6 179.8,40.1 179.7,40.3 179.2,40.3 177.4,39.9 176.4,39.4 176.6,38.2 177.1,37.1 177.1,36.8 176.9,36.7 176.4,36.7 176.0,37.0 175.1,39.6 174.7,40.0 174.4,40.1 172.6,40.1 172.3,39.9 173.0,38.1 172.9,37.7 172.3,37.7 171.9,38.2 171.2,39.4 170.6,39.9 170.3,40.0 168.7,40.0 168.0,39.6 167.9,38.9 166.6,35.0 165.7,35.7 165.4,36.5 165.4,37.1 166.0,38.5 167.3,41.0 166.9,42.2 165.8,43.4 165.0,43.9 164.1,44.1 162.9,44.1 161.7,43.9ZM105.9,35.0 105.0,35.7 104.6,36.5 104.6,37.1 105.3,38.8 106.6,41.0 106.1,42.2 105.1,43.4 104.3,43.9 103.4,44.1 102.1,44.1 101.0,43.9 100.9,44.6 101.4,45.1 103.0,46.0 104.5,45.7 105.8,44.9 106.6,43.8 107.1,42.3 107.2,40.9 107.4,40.7 107.2,39.4ZM99.9,35.1 98.7,35.0 97.7,35.6 96.8,36.6 96.2,37.5 95.5,39.3 95.5,40.7 96.1,41.8 97.2,42.4 98.4,42.7 99.6,42.7 99.7,42.9 98.6,43.9 96.4,44.9 95.3,45.0 95.2,45.1 93.6,45.0 92.8,44.5 92.3,43.9 92.0,42.8 92.0,41.7 92.2,40.7 91.5,40.6 91.2,42.3 91.2,44.1 91.4,45.1 92.2,46.3 93.0,46.8 93.9,47.1 95.1,47.1 96.2,46.8 98.3,45.9 99.1,45.2 100.2,44.0 100.6,42.9 100.6,42.3 100.3,41.5 100.0,41.1 99.1,40.7 96.8,40.4 96.2,40.0 96.9,38.7 97.8,37.7 98.5,37.2 99.1,37.0 99.6,37.0 100.1,37.3 100.6,37.1 100.4,36.0ZM280.6,34.4 280.2,34.7 279.3,35.7 279.3,36.6 280.4,39.4 278.9,39.9 275.4,40.0 274.8,39.8 273.5,35.5 273.5,35.1 273.4,35.0 272.7,35.5 272.1,36.5 272.1,37.1 272.7,38.5 274.0,41.0 273.6,42.2 272.6,43.4 271.8,43.9 270.9,44.1 269.6,44.1 268.5,43.9 268.3,44.6 269.3,45.4 270.5,46.0 271.6,45.9 272.4,45.5 273.4,44.8 274.0,43.8 274.6,42.3 274.6,41.8 274.8,41.6 275.6,42.0 277.1,42.0 279.5,41.5 280.6,41.0 281.3,39.2 281.3,37.9ZM207.0,40.7 207.4,41.6 207.7,41.8 208.6,42.1 210.9,42.0 212.4,41.5 212.9,41.1 213.3,41.1 213.6,41.5 214.3,41.8 216.0,42.0 217.4,41.5 217.9,40.7 218.6,41.3 220.0,42.0 221.7,41.8 222.5,41.5 222.8,41.1 223.1,41.1 224.2,41.6 225.8,42.0 228.8,42.1 228.9,42.0 230.1,41.8 231.1,41.5 232.4,40.7 233.0,40.3 233.5,39.4 233.8,38.8 233.9,37.7 233.4,36.7 232.4,35.6 231.0,34.8 230.1,34.7 229.3,34.9 227.8,35.9 225.8,38.1 224.5,39.8 223.8,39.4 224.3,37.7 223.6,37.6 223.2,37.9 222.4,39.4 221.8,39.9 221.5,40.0 219.3,39.9 218.5,39.4 219.2,37.9 219.3,37.3 218.5,37.2 218.3,37.3 217.4,39.2 216.9,39.6 216.1,40.0 214.6,40.0 214.2,39.8 213.4,38.8 212.7,37.2 212.0,34.9 211.9,34.0 211.7,33.8 211.1,34.2 210.8,34.8 210.8,36.1 211.3,37.8 212.3,39.8 211.1,40.1 209.0,40.1 207.5,39.4 207.1,40.0ZM233.0,38.8 231.0,39.8 229.2,40.3 226.7,40.3 226.6,40.1 225.9,40.1 225.7,39.9 228.0,37.5 229.2,36.7 229.8,36.6 230.6,36.7 231.4,37.1ZM384.1,38.1 383.4,36.6 382.2,35.1 380.9,34.0 379.4,33.3 378.8,33.2 378.4,34.9 377.7,35.5 377.2,36.2 376.9,37.2 376.9,38.7 377.1,39.3 377.6,39.9 377.5,40.0 375.3,40.0 374.6,39.6 374.5,38.9 373.2,35.0 372.3,35.7 372.0,36.5 372.0,37.1 372.6,38.5 373.9,41.0 373.5,42.2 372.5,43.4 371.7,43.9 370.7,44.1 369.5,44.1 368.4,43.9 368.2,44.6 369.2,45.4 370.4,46.0 371.9,45.7 373.1,44.9 373.7,44.1 374.3,43.1 374.5,41.8 374.7,41.6 375.5,42.0 376.9,42.0 378.0,41.7 379.3,41.2 381.0,42.0 383.4,42.3 383.9,41.2 384.3,40.1 384.3,39.0ZM381.2,36.4 382.5,37.9 383.0,39.2 383.4,40.3 383.3,40.5 381.4,40.3 380.6,39.9 381.2,38.4 381.2,36.8 381.1,36.7ZM379.2,36.1 379.5,36.2 380.2,37.1 380.1,38.4 379.7,39.0 379.3,39.4 378.5,38.9 377.6,37.9 377.9,37.1 378.6,36.4ZM342.5,38.1 341.8,36.6 340.7,35.1 339.3,34.0 337.9,33.3 337.3,33.2 336.8,34.9 336.2,35.5 335.7,36.2 335.4,37.2 335.4,38.7 335.6,39.3 336.0,39.9 335.9,40.0 333.8,40.0 333.1,39.6 333.0,38.9 331.7,35.0 330.8,35.7 330.5,36.5 330.5,37.1 331.0,38.5 332.4,41.0 331.9,42.2 330.9,43.4 330.1,43.9 329.2,44.1 328.0,44.1 326.8,43.9 326.7,44.6 327.6,45.4 328.9,46.0 330.4,45.7 331.6,44.9 332.2,44.1 332.7,43.1 333.0,41.8 333.2,41.6 334.0,42.0 335.4,42.0 336.5,41.7 337.8,41.2 339.5,42.0 341.8,42.3 342.4,41.2 342.8,40.1 342.8,39.0ZM339.7,36.4 340.9,37.9 341.5,39.2 341.8,40.3 341.7,40.5 339.9,40.3 339.1,39.9 339.7,38.4 339.7,36.8 339.6,36.7ZM337.6,36.1 338.0,36.2 338.7,37.1 338.5,38.4 338.2,39.0 337.8,39.4 337.0,38.9 336.0,37.9 336.4,37.1 337.1,36.4ZM135.1,39.2 135.1,39.6 135.7,40.3 136.9,41.0 137.9,41.2 138.9,41.3 139.7,39.9 139.9,40.9 140.1,41.2 140.8,41.7 141.6,42.0 144.3,41.8 146.5,41.2 147.0,41.0 147.6,39.2 147.6,37.9 147.0,34.4 146.5,34.7 145.6,35.7 145.6,36.6 146.7,39.2 146.6,39.5 144.3,40.0 141.5,40.0 140.6,39.6 140.4,39.4 140.4,33.1 138.8,34.3 138.8,35.0 137.9,35.5 136.8,36.2 135.8,37.3ZM139.6,39.3 139.0,39.4 137.3,39.0 136.1,38.3 137.6,37.1 138.6,36.6 139.0,36.6 139.2,37.1ZM217.9,32.6 216.7,34.0 217.5,34.9 218.1,35.3 219.2,33.9ZM191.9,31.6 190.8,32.8 191.6,33.7 192.0,33.9 192.9,32.8 192.9,32.6ZM194.4,31.4 193.4,32.6 194.5,33.7 195.5,32.3ZM272.3,31.0 271.1,32.5 271.9,33.3 272.4,33.7 273.6,32.3ZM80.5,29.9 79.4,31.1 80.2,32.0 80.6,32.2 81.5,31.1 81.5,30.9ZM117.1,29.8 115.9,31.2 116.7,32.1 117.3,32.5 118.4,31.1ZM83.0,29.7 82.0,30.9 83.1,32.0 84.2,30.6ZM129.3,29.4 129.1,29.2 128.9,29.2 122.7,32.2 122.5,32.5 122.2,33.9 122.3,35.1 122.9,35.7 123.6,35.7 123.7,35.6 125.6,36.8 127.0,38.4 127.4,39.0 127.3,39.3 125.9,39.8 124.3,39.9 124.2,40.0 121.4,40.0 120.9,39.8 120.3,39.2 119.8,38.1 119.0,35.7 118.6,34.0 118.4,33.8 117.8,34.2 117.5,34.8 117.5,36.1 118.1,37.8 119.0,39.8 117.8,40.1 115.7,40.1 114.2,39.4 113.8,40.0 113.7,40.6 113.8,41.2 114.1,41.6 114.4,41.8 115.3,42.1 116.9,42.1 118.1,41.8 119.6,41.1 120.0,41.1 120.7,41.7 121.5,42.0 123.4,42.0 123.5,41.8 124.4,41.8 125.6,41.6 127.2,40.9 127.8,40.1 128.2,39.2 128.2,38.4 127.7,37.2 125.8,35.1 124.1,34.2 123.1,33.8 123.3,33.6 125.5,32.8 129.0,31.1 129.3,30.6ZM388.3,29.1 387.8,29.1 387.1,29.4 386.7,30.3 386.8,32.1 386.9,32.2 386.9,33.6 387.0,33.7 387.0,35.1 387.1,35.3 387.1,37.0 387.2,37.1 387.4,42.0 388.4,41.8 388.4,38.9 388.5,38.8 388.5,32.5 388.4,31.9 388.9,31.4 388.9,31.0 388.7,30.6ZM346.7,29.1 346.3,29.1 345.6,29.4 345.1,30.3 345.3,32.1 345.4,32.2 345.4,33.6 345.5,33.7 345.5,35.1 345.6,35.3 345.6,37.0 345.7,37.1 345.8,42.0 346.9,41.8 346.9,38.9 347.0,38.8 347.0,32.5 346.9,31.9 347.4,31.4 347.4,31.0 347.2,30.6ZM290.9,29.9 290.5,30.3 290.6,31.9 290.8,32.0 290.8,33.2 290.9,33.3 290.9,34.5 291.0,34.7 291.0,35.7 291.1,35.9 291.4,40.0 291.9,41.0 292.4,41.5 293.6,42.0 295.7,42.0 295.8,41.8 296.7,41.8 297.8,41.6 299.4,40.9 300.1,40.1 300.4,39.2 300.4,38.4 300.0,37.2 298.0,35.1 296.3,34.2 295.3,33.8 295.5,33.6 297.7,32.8 301.2,31.1 301.6,30.6 301.6,29.4 301.3,29.2 301.1,29.2 297.5,31.0 297.2,31.0 294.7,32.5 294.4,33.9 294.5,35.1 295.2,35.7 295.9,35.7 296.0,35.6 297.8,36.8 298.8,37.8 299.6,39.0 299.5,39.3 299.1,39.5 297.5,39.9 296.6,39.9 296.5,40.0 293.5,40.0 292.9,39.8 292.6,39.4 292.5,34.3 292.4,34.2 292.4,29.1ZM257.0,29.9 256.6,30.3 256.7,31.9 256.9,32.0 256.9,33.2 257.0,33.3 257.0,34.5 257.1,34.7 257.1,35.7 257.2,35.9 257.5,40.0 258.0,41.0 258.5,41.5 259.7,42.0 261.3,41.8 262.4,41.0 263.3,41.5 264.5,41.8 265.7,42.0 265.8,42.1 266.9,42.1 267.4,41.3 267.8,40.5 267.8,39.0 267.4,37.7 266.8,36.2 266.1,35.5 265.6,35.3 264.8,35.3 264.0,35.7 263.2,36.8 262.3,38.8 261.4,39.8 260.8,40.0 259.6,40.0 259.0,39.8 258.7,39.4 258.6,34.3 258.5,34.2 258.5,29.1ZM264.4,37.5 264.8,37.2 265.2,37.2 265.7,37.8 266.3,39.4 266.3,40.1 266.2,40.3 264.3,39.9 263.2,39.3 263.8,38.2ZM150.3,29.9 149.9,30.3 150.0,31.9 150.1,32.0 150.1,33.2 150.3,33.3 150.3,34.5 150.4,34.7 150.4,35.7 150.5,35.9 150.8,40.0 151.3,41.0 151.7,41.5 153.0,42.0 154.6,41.8 155.7,41.0 156.6,41.5 157.8,41.8 159.0,42.0 159.1,42.1 160.2,42.1 160.7,41.3 161.1,40.5 161.1,39.0 160.7,37.7 160.0,36.2 159.4,35.5 158.9,35.3 158.1,35.3 157.3,35.7 156.5,36.8 155.6,38.8 154.7,39.8 154.1,40.0 152.9,40.0 152.3,39.8 152.0,39.4 151.8,34.3 151.7,34.2 151.7,29.1ZM157.6,37.5 158.1,37.2 158.4,37.2 159.0,37.8 159.6,39.4 159.6,40.1 159.5,40.3 157.5,39.9 156.5,39.3 157.1,38.2ZM111.2,29.1 110.8,29.1 110.1,29.4 109.6,30.3 109.8,32.1 109.9,32.2 109.9,33.6 110.0,33.7 110.0,35.1 110.1,35.3 110.1,37.0 110.2,37.1 110.3,42.0 111.3,41.8 111.3,38.9 111.5,38.8 111.5,32.5 111.3,31.9 111.9,31.4 111.9,31.0 111.7,30.6ZM74.8,29.9 74.5,30.3 74.6,31.9 74.7,32.0 74.7,33.2 74.8,33.3 74.8,34.5 74.9,34.7 74.9,35.7 75.1,35.9 75.4,40.0 75.8,41.0 76.3,41.5 77.6,42.0 79.7,42.0 79.8,41.8 80.9,41.8 81.0,41.7 82.2,41.6 84.4,40.7 84.7,40.1 84.8,39.5 84.8,38.2 84.7,38.1 84.6,36.7 84.3,35.6 83.7,34.5 82.8,33.6 82.2,33.3 81.4,33.3 80.3,34.2 79.6,35.6 79.5,37.5 79.9,38.4 80.6,38.9 81.2,38.9 81.3,39.0 82.2,38.9 83.7,38.2 83.9,38.7 83.9,39.2 82.8,39.6 81.8,39.9 80.9,39.9 80.7,40.0 77.4,40.0 76.9,39.8 76.5,39.4 76.4,34.3 76.3,34.2 76.3,29.1ZM80.2,36.5 80.4,35.9 80.7,35.5 81.3,35.3 81.8,35.3 82.3,35.5 82.9,36.1 83.4,37.0 83.4,37.2 83.1,37.5 81.3,37.7 80.6,37.5 80.3,37.1ZM65.8,29.1 65.4,29.1 64.9,29.3 64.2,30.1 64.2,31.7 64.4,31.9 64.7,34.9 65.0,36.4 65.0,37.0 65.2,37.1 65.2,37.7 65.3,37.8 65.3,38.4 65.4,38.5 65.4,39.2 66.1,43.1 65.2,44.0 63.9,44.8 62.3,45.1 60.7,45.0 60.0,44.6 59.6,44.1 59.1,42.8 59.1,41.7 59.3,40.7 58.7,40.6 58.3,42.3 58.4,44.8 59.0,46.0 59.7,46.6 60.5,46.9 61.1,47.1 62.9,46.9 63.7,46.7 64.8,46.1 66.4,44.4 66.9,43.1 66.9,41.7 67.0,41.6 67.8,42.0 68.9,42.0 70.6,41.5 71.6,40.9 72.2,39.3 72.2,37.8 71.5,34.4 71.4,34.4 70.2,35.7 70.2,36.6 71.3,39.2 71.2,39.5 69.4,40.0 67.5,40.0 67.0,39.8 66.6,39.4 66.5,37.0 66.4,36.8 66.2,33.4 65.9,31.7 66.4,31.4 66.4,31.0 65.9,29.8ZM33.0,30.3 33.9,40.0 34.1,40.6 34.8,41.5 36.0,42.0 37.6,42.0 39.2,41.6 40.8,40.9 41.7,41.5 42.9,41.8 45.1,42.0 46.0,41.6 46.7,41.0 47.6,41.5 48.8,41.8 50.0,42.0 50.1,42.1 51.2,42.1 51.7,41.3 52.1,40.5 52.0,38.4 51.5,37.1 51.0,36.2 50.4,35.5 49.9,35.3 49.1,35.3 48.3,35.7 47.5,36.8 46.6,38.8 45.7,39.8 45.1,40.0 42.9,40.0 42.3,39.8 43.0,39.0 43.5,38.1 43.8,36.8 43.6,36.2 43.2,35.4 42.5,34.8 41.6,34.4 39.9,34.4 38.8,34.8 37.7,35.4 37.2,36.2 37.2,37.0 37.5,37.6 38.0,37.5 39.0,38.5 39.7,39.5 39.4,39.9 38.9,39.9 38.8,40.0 35.9,40.0 35.3,39.8 35.0,39.4 35.0,37.9 34.9,37.8 34.8,29.1 33.6,29.7ZM48.7,37.5 49.1,37.2 49.5,37.2 50.0,37.8 50.6,39.4 50.6,40.1 50.5,40.3 48.5,39.9 47.5,39.3 48.1,38.2ZM39.1,36.6 40.1,36.2 41.4,36.2 42.1,36.8 42.2,37.8 41.9,38.3 41.0,39.2 39.0,36.8ZM11.5,39.2 11.5,39.6 12.0,40.3 13.3,41.0 14.2,41.2 15.2,41.3 16.0,39.9 16.2,40.9 16.5,41.2 17.1,41.7 17.9,42.0 19.3,42.0 20.2,41.7 20.8,41.3 21.1,41.3 21.6,41.7 22.4,42.0 23.6,42.0 24.5,41.6 25.2,41.0 26.1,41.5 27.3,41.8 28.5,42.0 28.6,42.1 29.7,42.1 30.2,41.3 30.6,40.5 30.6,39.0 30.0,37.1 29.5,36.2 28.9,35.5 28.4,35.3 27.6,35.3 26.8,35.7 26.0,36.8 25.1,38.8 24.2,39.8 23.6,40.0 22.3,40.0 21.8,39.9 21.1,39.4 21.1,29.1 19.4,30.1 20.0,36.5 20.1,36.6 20.2,38.4 20.4,39.4 20.3,39.6 19.4,40.0 17.8,40.0 17.1,39.8 16.7,39.4 16.7,33.1 15.1,34.3 15.1,35.0 14.2,35.5 13.2,36.2 12.1,37.3ZM27.2,37.5 27.6,37.2 27.9,37.2 28.5,37.8 29.1,39.4 29.1,40.1 29.0,40.3 27.0,39.9 26.0,39.3 26.6,38.2ZM15.9,39.3 15.3,39.4 13.6,39.0 12.5,38.3 14.0,37.1 15.0,36.6 15.3,36.6 15.5,37.1ZM128.9,27.6 128.5,27.5 122.2,30.8 122.3,31.5 128.6,28.4 129.0,28.0ZM244.1,27.3 243.1,27.3 242.9,27.8 239.0,44.4 240.1,44.4ZM349.2,27.2 349.2,28.2 350.6,29.5 351.4,31.1 351.7,32.3 351.9,33.9 352.0,34.0 352.0,37.9 351.9,38.1 351.7,39.6 350.9,41.8 350.4,42.7 349.2,43.7 349.2,44.6 349.5,44.6 351.5,43.4 352.5,42.4 353.5,41.1 353.8,40.4 354.4,38.3 354.5,34.5 353.9,31.9 352.8,29.8 351.4,28.4ZM254.5,27.2 252.6,28.2 251.7,28.9 250.7,30.1 249.9,31.6 249.5,33.2 249.3,34.8 249.2,34.9 249.2,37.1 249.3,37.2 249.5,38.7 249.8,40.0 250.5,41.5 252.1,43.3 254.2,44.6 254.5,44.6 254.5,43.7 253.0,42.2 252.5,41.3 252.1,40.0 251.9,38.8 251.9,37.8 251.7,37.7 251.7,34.2 251.9,34.0 252.0,32.5 252.4,30.9 253.2,29.4 253.9,28.7 254.5,28.3Z" fill="#000" fill-rule="evenodd"/>
<path d="M139.0,83.5 137.8,84.8 138.7,85.7 139.1,86.0 140.1,84.8 140.1,84.6ZM108.9,83.5 107.7,84.8 108.6,85.7 109.0,86.0 110.0,84.8 110.0,84.6ZM141.6,83.3 140.6,84.6 141.8,85.7 142.8,84.3ZM111.6,83.3 110.5,84.6 111.7,85.7 112.7,84.3ZM214.8,74.7 213.9,74.7 213.4,75.0 212.3,76.3 211.7,77.9 211.7,78.6 211.6,78.7 211.7,80.2 212.1,81.0 213.0,81.7 213.5,81.9 214.9,81.7 215.9,81.2 216.4,80.7 216.6,80.9 216.4,81.6 215.3,83.0 214.1,83.8 213.0,84.0 211.7,84.0 211.6,83.9 210.3,83.8 210.0,84.4 211.2,85.3 212.8,86.0 213.9,85.8 215.3,85.1 216.2,84.0 216.7,83.3 217.3,81.5 217.4,79.7 217.1,77.8 216.0,75.6ZM212.4,78.2 212.7,77.7 213.4,76.9 214.2,76.8 214.8,77.0 215.7,77.9 216.4,79.4 216.0,79.7 215.1,80.0 213.4,79.8 212.5,79.2ZM223.3,74.5 222.3,75.2 222.0,76.0 222.0,76.6 222.7,78.4 224.0,80.7 223.5,82.0 222.5,83.3 221.6,83.8 220.7,84.0 219.4,84.0 218.2,83.8 218.0,84.6 218.6,85.1 220.3,86.0 221.9,85.7 223.2,84.8 224.0,83.7 224.6,82.1 224.7,80.6 224.8,80.5 224.7,79.1ZM206.8,74.5 205.9,75.2 205.5,76.0 205.5,76.6 206.2,78.4 207.5,80.7 207.1,82.0 206.0,83.3 205.1,83.8 204.2,84.0 202.9,84.0 201.7,83.8 201.6,84.6 202.2,85.1 203.8,86.0 205.4,85.7 206.7,84.8 207.5,83.7 208.1,82.1 208.3,80.6 208.4,80.5 208.3,79.1ZM143.3,84.6 144.3,85.3 145.6,86.0 147.1,85.7 148.4,84.8 149.0,84.0 149.6,82.9 149.9,81.6 150.1,81.4 150.9,81.7 154.6,81.6 156.2,81.1 158.7,79.7 159.9,79.3 161.8,79.3 162.1,79.4 162.9,77.8 162.9,77.5 160.7,77.4 158.5,76.4 157.2,75.4 156.0,74.7 154.5,74.6 153.3,75.0 152.7,75.6 152.5,76.3 152.5,76.8 152.9,77.4 154.2,76.8 154.9,76.8 155.0,76.6 155.1,76.8 155.7,76.8 158.2,78.4 157.9,78.7 157.0,78.8 154.9,79.6 150.7,79.7 150.0,79.3 149.9,78.6 148.6,74.5 147.6,75.2 147.2,76.0 147.2,76.6 147.8,78.2 149.3,80.7 148.8,82.0 147.7,83.3 146.9,83.8 145.9,84.0 144.6,84.0 143.4,83.8ZM20.6,74.6 19.4,74.5 18.3,75.1 17.4,76.1 16.8,77.0 16.0,78.9 16.0,80.5 16.6,81.6 17.8,82.3 19.0,82.5 20.3,82.5 20.5,82.8 19.3,83.8 17.0,84.8 15.8,84.9 15.7,85.1 14.0,84.9 13.2,84.4 12.7,83.8 12.3,82.6 12.3,81.5 12.6,80.5 11.9,80.3 11.5,82.1 11.5,84.0 11.8,85.1 12.6,86.3 13.4,86.9 14.4,87.1 15.6,87.1 16.8,86.9 18.9,85.8 19.8,85.2 20.9,83.9 21.4,82.8 21.4,82.1 21.1,81.2 20.7,80.9 19.8,80.5 17.4,80.1 16.8,79.7 17.5,78.3 18.4,77.3 19.2,76.8 19.8,76.5 20.3,76.5 20.8,76.9 21.4,76.6 21.2,75.5ZM131.1,74.1 129.8,75.6 130.7,76.5 131.3,76.9 132.4,75.5ZM142.1,73.8 141.6,74.1 140.7,75.2 140.7,76.1 141.9,78.8 141.8,79.2 139.4,79.7 136.6,79.7 135.8,79.2 135.8,78.6 135.4,76.9 134.7,77.3 134.2,77.8 133.9,78.7 133.9,79.4 135.3,83.0 134.2,84.0 133.0,84.7 131.4,85.1 130.2,85.1 129.0,84.6 128.5,84.0 128.0,82.6 128.0,81.5 128.3,80.5 127.6,80.3 127.2,82.1 127.2,84.0 127.4,85.1 128.0,86.1 129.1,86.9 130.1,87.1 131.3,87.1 133.2,86.6 134.2,86.0 135.4,84.7 136.0,83.5 136.1,81.7 136.3,81.6 136.7,81.7 139.4,81.6 140.9,81.2 142.1,80.7 142.8,78.8 142.8,77.5ZM27.6,73.2 27.3,73.3 26.4,74.3 26.4,75.5 28.0,78.2 28.5,79.3 28.1,79.6 27.0,79.8 24.9,79.8 23.3,79.1 23.0,79.7 22.9,80.5 23.0,81.0 23.6,81.6 24.5,81.9 26.3,81.9 26.4,81.7 27.6,81.6 28.9,81.0 29.4,79.6 29.5,78.7 29.1,76.9ZM120.6,77.8 120.5,77.7 120.4,76.3 120.0,75.1 119.4,74.0 118.5,72.9 117.9,72.7 117.0,72.7 115.9,73.6 115.3,74.7 115.0,75.7 115.1,77.4 115.5,78.0 116.2,78.6 116.8,78.6 116.9,78.7 117.9,78.6 118.6,78.3 119.3,77.8 119.6,77.9 119.7,78.3 119.6,78.9 117.4,79.6 116.4,79.6 116.3,79.7 112.7,79.7 112.3,79.6 111.4,79.1 112.0,77.8 112.3,76.9 111.4,76.8 111.1,77.0 110.1,78.9 109.5,79.4 108.7,79.7 106.4,79.7 105.6,78.9 104.2,75.4 103.6,74.7 102.8,74.7 102.1,75.1 100.9,76.3 100.0,78.2 99.9,79.4 99.5,79.7 97.9,79.7 96.6,79.1 97.5,77.1 97.2,76.9 96.5,76.9 96.2,77.3 95.7,78.3 95.1,78.9 93.9,79.4 91.7,79.7 91.6,79.8 88.4,79.8 88.3,79.7 87.7,79.7 86.7,79.3 85.8,78.4 85.4,77.3 85.4,75.9 85.5,75.7 84.8,75.7 84.7,75.9 84.6,77.1 84.5,77.3 84.5,78.4 84.7,79.6 85.5,80.9 86.6,81.5 88.0,81.9 90.5,81.9 90.7,81.7 92.5,81.6 94.6,81.0 95.8,80.2 97.0,81.2 98.3,81.7 99.5,81.7 101.0,81.1 102.8,81.7 104.7,81.9 104.7,81.5 105.0,81.0 106.3,81.7 108.1,81.7 109.8,81.4 110.2,81.1 110.8,80.5 111.6,81.1 112.5,81.6 113.0,81.7 115.3,81.7 115.4,81.6 116.4,81.6 116.6,81.5 117.9,81.4 120.1,80.5 120.5,79.8 120.6,79.2ZM100.8,78.6 101.9,77.4 103.3,76.5 103.6,77.1 103.8,78.7 104.3,79.8 104.2,80.0 103.6,80.0 101.9,79.4 101.2,79.1ZM115.7,76.0 116.0,75.4 116.3,75.0 116.9,74.7 117.4,74.7 118.0,75.0 118.6,75.6 119.1,76.5 119.1,76.8 118.8,77.0 116.9,77.3 116.2,77.0 115.9,76.6ZM89.0,72.5 87.8,73.8 88.6,74.7 89.1,75.0 90.1,73.8 90.1,73.6ZM184.1,78.8 184.1,79.3 184.7,80.0 186.4,80.9 188.1,81.1 188.9,79.6 189.2,80.6 189.4,81.0 190.5,81.6 192.5,81.7 194.3,81.2 195.4,80.6 196.0,78.9 196.0,77.4 195.2,73.8 194.8,74.1 193.8,75.2 193.8,76.1 195.0,78.8 194.9,79.2 193.0,79.7 190.8,79.7 190.1,79.4 189.6,79.1 189.6,72.4 188.0,73.7 188.0,74.5 187.0,75.0 185.9,75.7 184.9,76.9ZM188.8,78.9 188.2,79.1 186.4,78.7 185.2,77.9 186.8,76.6 187.8,76.1 188.2,76.1 188.4,76.6ZM91.6,72.3 90.5,73.6 91.7,74.7 92.8,73.3ZM205.7,70.2 204.4,71.8 205.3,72.7 205.9,73.1 207.1,71.7ZM156.9,70.0 155.6,71.5 156.4,72.4 157.0,72.8 158.2,71.4ZM194.2,69.5 192.9,71.0 193.7,71.9 194.3,72.3 195.5,70.9ZM116.1,69.1 114.9,70.4 115.7,71.3 116.2,71.5 117.2,70.4 117.2,70.1ZM118.7,68.8 117.6,70.1 118.8,71.3 119.9,69.9ZM200.0,68.2 199.5,68.2 198.8,68.6 198.3,69.5 198.5,71.4 198.6,71.5 198.6,72.9 198.7,73.1 198.7,74.6 198.8,74.7 198.8,76.5 198.9,76.6 199.1,81.7 200.1,81.6 200.1,78.6 200.3,78.4 200.3,71.8 200.1,71.1 200.7,70.6 200.7,70.2 200.5,69.9ZM166.8,68.2 166.3,68.2 165.6,68.6 165.2,69.5 165.3,71.4 165.4,71.5 165.4,72.9 165.5,73.1 165.5,74.6 165.6,74.7 165.6,76.5 165.8,76.6 165.9,81.7 166.9,81.6 166.9,78.6 167.1,78.4 167.1,71.8 166.9,71.1 167.5,70.6 167.5,70.2 167.3,69.9ZM68.6,78.9 68.5,78.6 68.2,78.4 66.8,79.1 65.1,79.4 64.3,79.4 64.2,79.6 63.4,79.4 62.6,78.9 61.9,77.9 61.7,77.0 61.8,76.5 62.5,76.1 63.4,75.9 64.6,75.9 65.7,76.3 66.1,76.3 66.3,75.9 66.3,75.6 65.1,74.5 64.0,74.0 63.2,74.0 62.2,74.5 61.4,75.4 60.8,76.5 60.6,77.3 60.6,78.7 61.1,79.4 60.9,79.7 59.1,79.7 58.3,78.9 56.9,75.4 56.3,74.7 55.6,74.7 54.8,75.1 53.7,76.3 52.7,78.2 52.6,79.4 52.2,79.7 50.7,79.7 49.7,79.3 49.5,79.1 49.5,68.2 47.7,69.4 48.3,76.0 48.4,76.1 48.4,77.0 48.5,77.1 48.5,78.0 48.8,79.2 47.7,79.7 46.1,79.7 45.1,79.3 44.6,78.9 44.6,78.0 43.9,76.4 42.4,74.8 41.7,74.3 39.4,73.3 39.9,72.9 42.4,72.0 45.7,70.5 46.3,69.9 46.4,69.5 46.4,68.8 46.1,68.3 45.9,68.3 39.1,71.5 38.5,72.0 38.1,72.8 38.1,73.4 38.4,74.0 38.9,74.5 40.8,75.6 42.6,77.0 43.7,78.7 43.6,78.9 42.8,79.3 40.6,79.6 40.5,79.7 37.3,79.7 36.6,79.3 36.5,78.6 35.2,74.5 34.2,75.2 33.8,76.0 33.8,76.6 34.4,78.2 35.9,80.7 35.4,82.0 34.3,83.3 33.5,83.8 32.5,84.0 31.2,84.0 30.0,83.8 29.9,84.6 30.9,85.3 32.2,86.0 33.4,85.8 34.2,85.4 35.2,84.7 35.9,83.7 36.5,82.1 36.5,81.6 36.7,81.4 37.5,81.7 40.6,81.6 42.6,81.1 43.5,80.6 43.9,80.2 44.9,81.2 46.4,81.7 48.2,81.6 49.1,81.1 49.5,81.1 50.0,81.5 50.8,81.7 52.2,81.7 53.8,81.1 55.6,81.7 57.5,81.9 57.5,81.5 57.7,81.0 59.0,81.7 61.7,81.7 61.8,81.6 63.1,81.6 63.2,81.5 65.5,81.2 67.9,80.6 68.3,80.2 68.6,79.7ZM53.5,78.6 54.6,77.4 56.0,76.5 56.3,77.1 56.5,78.7 57.0,79.8 56.9,80.0 56.3,80.0 54.6,79.4 53.9,79.1ZM178.4,66.4 177.3,66.4 177.1,66.9 173.0,84.3 174.2,84.3ZM78.8,66.4 77.8,66.4 77.5,66.9 73.5,84.3 74.7,84.3ZM163.5,66.5 163.8,66.7 164.4,66.3 164.9,66.3 166.0,66.7 167.3,66.7 168.1,66.3 168.9,65.6 168.6,65.3 167.7,65.6 166.3,65.6 164.8,65.3 163.8,65.9 163.5,66.3Z" fill="#000" fill-rule="evenodd"/>
<text x="11.3" y="126.4" font-family='"Liberation Serif", serif' font-size="19.7" fill="#000">1404/07/20 14:19</text>
<text x="10.4" y="162.5" font-family='"Liberation Serif", serif' font-size="19.9" fill="#000">FarhadAzi</text>
<g transform="translate(10.3,726.3)" fill="#131722"><path d="M0,0H8.5V9.4H3.5V4H0Z"/><circle cx="10.4" cy="1.95" r="1.95"/><path d="M14.2,0H18.8L15.3,9.4H10.4Z"/></g>
<text x="32.8" y="737.2" font-family='"Liberation Sans", sans-serif' font-size="13.6" fill="#131722">TradingView</text>
</svg>
</body></html>
